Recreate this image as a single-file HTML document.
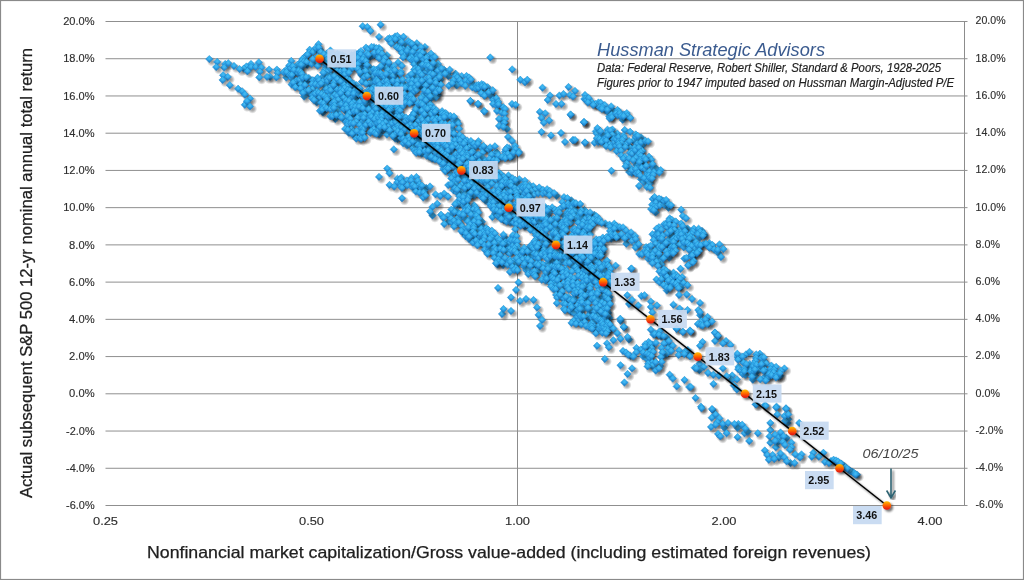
<!DOCTYPE html>
<html><head><meta charset="utf-8"><title>Hussman Strategic Advisors</title>
<style>html,body{margin:0;padding:0;background:#fff}body{width:1024px;height:580px;overflow:hidden;font-family:"Liberation Sans",sans-serif}svg{display:block}text{font-family:"Liberation Sans",sans-serif}</style></head><body>
<svg width="1024" height="580" viewBox="0 0 1024 580">
<defs>
<linearGradient id="dg" x1="0" y1="0" x2="0" y2="1"><stop offset="0.1" stop-color="#35b9f3"/><stop offset="0.5" stop-color="#2a9fe4"/><stop offset="0.95" stop-color="#1b7fca"/></linearGradient>
<radialGradient id="hg" cx="0.5" cy="0.5" r="0.5"><stop offset="0" stop-color="#5fd0ff" stop-opacity="0.55"/><stop offset="1" stop-color="#5fd0ff" stop-opacity="0"/></radialGradient>
<radialGradient id="sg" cx="0.5" cy="0.5" r="0.5"><stop offset="0" stop-color="#000" stop-opacity="0.42"/><stop offset="0.45" stop-color="#000" stop-opacity="0.3"/><stop offset="1" stop-color="#000" stop-opacity="0"/></radialGradient>
<linearGradient id="og" x1="0" y1="0" x2="0" y2="1"><stop offset="0.08" stop-color="#ffb400"/><stop offset="0.45" stop-color="#ff6a00"/><stop offset="0.8" stop-color="#ee2a0c"/><stop offset="1" stop-color="#d81810"/></linearGradient>
<filter id="sh" x="-5%" y="-5%" width="110%" height="110%"><feGaussianBlur in="SourceAlpha" stdDeviation="1.1"/><feOffset dx="2" dy="2"/><feComponentTransfer><feFuncA type="linear" slope="0.55"/></feComponentTransfer><feMerge><feMergeNode/><feMergeNode in="SourceGraphic"/></feMerge></filter>
<g id="d"><circle cx="2.4" cy="2.5" r="4.8" fill="url(#sg)"/><path d="M0-3.7L3.7 0L0 3.7L-3.7 0Z" fill="url(#dg)" stroke="#1d7fc6" stroke-width="0.45"/><circle cx="0" cy="-0.3" r="2.4" fill="url(#hg)"/></g>
</defs>
<rect x="0" y="0" width="1024" height="580" fill="#fff"/>
<path d="M105.5 21.5H967.5 M105.5 58.73076923076923H967.5 M105.5 95.96153846153847H967.5 M105.5 133.1923076923077H967.5 M105.5 170.42307692307693H967.5 M105.5 207.65384615384616H967.5 M105.5 244.88461538461542H967.5 M105.5 282.11538461538464H967.5 M105.5 319.34615384615387H967.5 M105.5 356.5769230769231H967.5 M105.5 393.8076923076923H967.5 M105.5 431.03846153846155H967.5 M105.5 468.26923076923083H967.5 M105.5 505.50000000000006H967.5" stroke="#8f8f8f" stroke-width="1" fill="none"/>
<path d="M517.5 21.5V505.5M964.5 21.5V505.5" stroke="#8c8c8c" stroke-width="1" fill="none"/>
<g font-size="11.5" fill="#2e2e2e" stroke="#2e2e2e" stroke-width="0.15">
<text x="94.6" y="25.1" text-anchor="end" textLength="31.4" lengthAdjust="spacingAndGlyphs">20.0%</text>
<text x="975.6" y="24.3" textLength="30" lengthAdjust="spacingAndGlyphs">20.0%</text>
<text x="94.6" y="62.3" text-anchor="end" textLength="31.4" lengthAdjust="spacingAndGlyphs">18.0%</text>
<text x="975.6" y="61.5" textLength="30" lengthAdjust="spacingAndGlyphs">18.0%</text>
<text x="94.6" y="99.6" text-anchor="end" textLength="31.4" lengthAdjust="spacingAndGlyphs">16.0%</text>
<text x="975.6" y="98.8" textLength="30" lengthAdjust="spacingAndGlyphs">16.0%</text>
<text x="94.6" y="136.8" text-anchor="end" textLength="31.4" lengthAdjust="spacingAndGlyphs">14.0%</text>
<text x="975.6" y="136.0" textLength="30" lengthAdjust="spacingAndGlyphs">14.0%</text>
<text x="94.6" y="174.0" text-anchor="end" textLength="31.4" lengthAdjust="spacingAndGlyphs">12.0%</text>
<text x="975.6" y="173.2" textLength="30" lengthAdjust="spacingAndGlyphs">12.0%</text>
<text x="94.6" y="211.3" text-anchor="end" textLength="31.4" lengthAdjust="spacingAndGlyphs">10.0%</text>
<text x="975.6" y="210.5" textLength="30" lengthAdjust="spacingAndGlyphs">10.0%</text>
<text x="94.6" y="248.5" text-anchor="end" textLength="25.5" lengthAdjust="spacingAndGlyphs">8.0%</text>
<text x="975.6" y="247.7" textLength="24.4" lengthAdjust="spacingAndGlyphs">8.0%</text>
<text x="94.6" y="285.7" text-anchor="end" textLength="25.5" lengthAdjust="spacingAndGlyphs">6.0%</text>
<text x="975.6" y="284.9" textLength="24.4" lengthAdjust="spacingAndGlyphs">6.0%</text>
<text x="94.6" y="322.9" text-anchor="end" textLength="25.5" lengthAdjust="spacingAndGlyphs">4.0%</text>
<text x="975.6" y="322.1" textLength="24.4" lengthAdjust="spacingAndGlyphs">4.0%</text>
<text x="94.6" y="360.2" text-anchor="end" textLength="25.5" lengthAdjust="spacingAndGlyphs">2.0%</text>
<text x="975.6" y="359.4" textLength="24.4" lengthAdjust="spacingAndGlyphs">2.0%</text>
<text x="94.6" y="397.4" text-anchor="end" textLength="25.5" lengthAdjust="spacingAndGlyphs">0.0%</text>
<text x="975.6" y="396.6" textLength="24.4" lengthAdjust="spacingAndGlyphs">0.0%</text>
<text x="94.6" y="434.6" text-anchor="end" textLength="28.5" lengthAdjust="spacingAndGlyphs">-2.0%</text>
<text x="975.6" y="433.8" textLength="27.4" lengthAdjust="spacingAndGlyphs">-2.0%</text>
<text x="94.6" y="471.9" text-anchor="end" textLength="28.5" lengthAdjust="spacingAndGlyphs">-4.0%</text>
<text x="975.6" y="471.1" textLength="27.4" lengthAdjust="spacingAndGlyphs">-4.0%</text>
<text x="94.6" y="509.1" text-anchor="end" textLength="28.5" lengthAdjust="spacingAndGlyphs">-6.0%</text>
<text x="975.6" y="508.3" textLength="27.4" lengthAdjust="spacingAndGlyphs">-6.0%</text>
<text x="105.5" y="524.6" text-anchor="middle" textLength="25" lengthAdjust="spacingAndGlyphs">0.25</text>
<text x="311.5" y="524.6" text-anchor="middle" textLength="25" lengthAdjust="spacingAndGlyphs">0.50</text>
<text x="517.5" y="524.6" text-anchor="middle" textLength="25" lengthAdjust="spacingAndGlyphs">1.00</text>
<text x="724" y="524.6" text-anchor="middle" textLength="25" lengthAdjust="spacingAndGlyphs">2.00</text>
<text x="930" y="524.6" text-anchor="middle" textLength="25" lengthAdjust="spacingAndGlyphs">4.00</text>
</g>
<text x="147" y="557.5" font-size="16.5" fill="#202020" stroke="#202020" stroke-width="0.25" textLength="724" lengthAdjust="spacingAndGlyphs">Nonfinancial market capitalization/Gross value-added (including estimated foreign revenues)</text>
<text transform="translate(32 498) rotate(-90)" font-size="16.5" fill="#202020" stroke="#202020" stroke-width="0.25" textLength="450" lengthAdjust="spacingAndGlyphs">Actual subsequent S&amp;P 500 12-yr nominal annual total return</text>
<g id="cloud"><use href="#d" x="209.3" y="59.1"/><use href="#d" x="217.2" y="61.9"/><use href="#d" x="225.2" y="64.0"/><use href="#d" x="224.1" y="67.6"/><use href="#d" x="216.2" y="67.1"/><use href="#d" x="228.3" y="63.2"/><use href="#d" x="234.0" y="66.0"/><use href="#d" x="223.1" y="75.3"/><use href="#d" x="227.8" y="76.9"/><use href="#d" x="246.4" y="66.5"/><use href="#d" x="243.8" y="68.6"/><use href="#d" x="222.6" y="80.0"/><use href="#d" x="239.6" y="69.1"/><use href="#d" x="251.0" y="64.0"/><use href="#d" x="251.0" y="67.0"/><use href="#d" x="229.8" y="85.2"/><use href="#d" x="255.7" y="67.0"/><use href="#d" x="238.1" y="88.8"/><use href="#d" x="247.4" y="71.2"/><use href="#d" x="258.8" y="62.4"/><use href="#d" x="261.4" y="67.6"/><use href="#d" x="269.1" y="69.6"/><use href="#d" x="259.8" y="71.7"/><use href="#d" x="259.3" y="77.4"/><use href="#d" x="242.2" y="91.4"/><use href="#d" x="270.1" y="76.9"/><use href="#d" x="244.8" y="94.5"/><use href="#d" x="267.0" y="76.9"/><use href="#d" x="250.0" y="98.6"/><use href="#d" x="276.9" y="69.6"/><use href="#d" x="291.3" y="60.9"/><use href="#d" x="244.8" y="104.8"/><use href="#d" x="246.9" y="101.2"/><use href="#d" x="277.5" y="73.0"/><use href="#d" x="297.8" y="64.6"/><use href="#d" x="286.5" y="69.5"/><use href="#d" x="250.0" y="106.4"/><use href="#d" x="297.8" y="66.8"/><use href="#d" x="305.6" y="56.0"/><use href="#d" x="295.1" y="67.3"/><use href="#d" x="276.4" y="77.4"/><use href="#d" x="286.3" y="77.6"/><use href="#d" x="289.3" y="65.5"/><use href="#d" x="309.7" y="49.8"/><use href="#d" x="304.5" y="57.7"/><use href="#d" x="283.6" y="72.2"/><use href="#d" x="286.5" y="72.2"/><use href="#d" x="316.8" y="49.7"/><use href="#d" x="290.5" y="68.2"/><use href="#d" x="302.3" y="59.1"/><use href="#d" x="309.3" y="52.7"/><use href="#d" x="294.6" y="73.0"/><use href="#d" x="318.5" y="44.3"/><use href="#d" x="301.5" y="61.3"/><use href="#d" x="292.8" y="66.3"/><use href="#d" x="312.7" y="52.1"/><use href="#d" x="315.5" y="48.1"/><use href="#d" x="307.3" y="54.7"/><use href="#d" x="300.2" y="69.0"/><use href="#d" x="289.8" y="75.2"/><use href="#d" x="296.6" y="71.7"/><use href="#d" x="307.1" y="64.8"/><use href="#d" x="314.7" y="58.7"/><use href="#d" x="303.7" y="62.0"/><use href="#d" x="306.5" y="62.0"/><use href="#d" x="293.8" y="70.0"/><use href="#d" x="298.1" y="73.2"/><use href="#d" x="315.1" y="62.9"/><use href="#d" x="317.5" y="56.9"/><use href="#d" x="291.9" y="78.2"/><use href="#d" x="302.7" y="66.0"/><use href="#d" x="298.7" y="70.7"/><use href="#d" x="320.2" y="50.0"/><use href="#d" x="318.6" y="47.4"/><use href="#d" x="311.7" y="63.9"/><use href="#d" x="301.0" y="64.8"/><use href="#d" x="295.6" y="83.4"/><use href="#d" x="291.6" y="84.5"/><use href="#d" x="291.7" y="75.0"/><use href="#d" x="327.4" y="53.0"/><use href="#d" x="320.7" y="52.1"/><use href="#d" x="320.0" y="59.0"/><use href="#d" x="330.7" y="52.9"/><use href="#d" x="300.8" y="72.2"/><use href="#d" x="312.7" y="59.1"/><use href="#d" x="294.5" y="85.0"/><use href="#d" x="298.8" y="82.4"/><use href="#d" x="296.4" y="80.6"/><use href="#d" x="299.4" y="79.6"/><use href="#d" x="303.3" y="83.2"/><use href="#d" x="305.1" y="80.2"/><use href="#d" x="293.1" y="82.6"/><use href="#d" x="323.8" y="54.3"/><use href="#d" x="307.7" y="79.6"/><use href="#d" x="301.8" y="74.0"/><use href="#d" x="300.9" y="84.3"/><use href="#d" x="295.4" y="87.2"/><use href="#d" x="328.8" y="58.4"/><use href="#d" x="302.5" y="77.7"/><use href="#d" x="308.8" y="77.9"/><use href="#d" x="326.9" y="56.5"/><use href="#d" x="306.1" y="77.3"/><use href="#d" x="330.4" y="50.5"/><use href="#d" x="319.3" y="62.0"/><use href="#d" x="302.7" y="87.5"/><use href="#d" x="312.9" y="80.3"/><use href="#d" x="332.9" y="55.0"/><use href="#d" x="326.6" y="59.9"/><use href="#d" x="337.4" y="53.9"/><use href="#d" x="362.7" y="26.2"/><use href="#d" x="317.7" y="65.8"/><use href="#d" x="300.4" y="88.6"/><use href="#d" x="316.6" y="79.7"/><use href="#d" x="335.4" y="58.7"/><use href="#d" x="325.6" y="66.6"/><use href="#d" x="325.0" y="69.8"/><use href="#d" x="322.4" y="77.2"/><use href="#d" x="339.8" y="56.5"/><use href="#d" x="330.8" y="60.7"/><use href="#d" x="342.4" y="55.2"/><use href="#d" x="325.1" y="63.4"/><use href="#d" x="345.1" y="56.4"/><use href="#d" x="342.0" y="57.2"/><use href="#d" x="304.9" y="85.0"/><use href="#d" x="305.4" y="91.7"/><use href="#d" x="340.3" y="54.6"/><use href="#d" x="317.6" y="77.8"/><use href="#d" x="310.3" y="89.8"/><use href="#d" x="311.9" y="84.2"/><use href="#d" x="309.5" y="93.4"/><use href="#d" x="312.7" y="89.1"/><use href="#d" x="331.7" y="63.3"/><use href="#d" x="367.3" y="27.0"/><use href="#d" x="308.3" y="90.3"/><use href="#d" x="327.9" y="71.3"/><use href="#d" x="337.5" y="60.2"/><use href="#d" x="338.1" y="68.0"/><use href="#d" x="331.7" y="75.1"/><use href="#d" x="341.2" y="59.7"/><use href="#d" x="304.1" y="96.6"/><use href="#d" x="337.6" y="65.0"/><use href="#d" x="331.9" y="67.6"/><use href="#d" x="326.9" y="75.6"/><use href="#d" x="315.4" y="84.4"/><use href="#d" x="330.6" y="69.0"/><use href="#d" x="339.7" y="62.7"/><use href="#d" x="319.0" y="80.3"/><use href="#d" x="302.8" y="93.0"/><use href="#d" x="337.1" y="62.3"/><use href="#d" x="323.1" y="72.8"/><use href="#d" x="317.3" y="91.4"/><use href="#d" x="347.3" y="58.2"/><use href="#d" x="312.6" y="94.9"/><use href="#d" x="322.6" y="81.6"/><use href="#d" x="347.5" y="62.5"/><use href="#d" x="337.1" y="70.6"/><use href="#d" x="380.6" y="24.7"/><use href="#d" x="334.7" y="62.5"/><use href="#d" x="327.5" y="83.7"/><use href="#d" x="356.5" y="55.6"/><use href="#d" x="355.6" y="53.6"/><use href="#d" x="351.7" y="55.3"/><use href="#d" x="354.5" y="55.8"/><use href="#d" x="350.1" y="59.8"/><use href="#d" x="370.5" y="31.0"/><use href="#d" x="359.3" y="52.6"/><use href="#d" x="327.2" y="78.7"/><use href="#d" x="353.3" y="58.1"/><use href="#d" x="346.8" y="66.3"/><use href="#d" x="323.0" y="91.9"/><use href="#d" x="318.8" y="85.2"/><use href="#d" x="325.8" y="86.2"/><use href="#d" x="321.0" y="83.6"/><use href="#d" x="340.5" y="71.5"/><use href="#d" x="327.6" y="81.0"/><use href="#d" x="361.0" y="51.1"/><use href="#d" x="350.0" y="69.7"/><use href="#d" x="318.5" y="96.3"/><use href="#d" x="352.2" y="65.3"/><use href="#d" x="329.5" y="78.0"/><use href="#d" x="312.1" y="98.2"/><use href="#d" x="342.9" y="65.6"/><use href="#d" x="315.0" y="93.7"/><use href="#d" x="321.2" y="99.7"/><use href="#d" x="342.3" y="78.9"/><use href="#d" x="334.4" y="87.8"/><use href="#d" x="357.4" y="60.0"/><use href="#d" x="340.3" y="76.1"/><use href="#d" x="374.0" y="47.1"/><use href="#d" x="330.2" y="87.1"/><use href="#d" x="359.3" y="59.4"/><use href="#d" x="334.6" y="78.9"/><use href="#d" x="379.0" y="37.0"/><use href="#d" x="326.4" y="88.9"/><use href="#d" x="334.2" y="76.0"/><use href="#d" x="337.1" y="83.0"/><use href="#d" x="360.4" y="54.3"/><use href="#d" x="318.6" y="92.9"/><use href="#d" x="342.7" y="76.5"/><use href="#d" x="366.0" y="47.6"/><use href="#d" x="320.0" y="97.6"/><use href="#d" x="359.8" y="64.8"/><use href="#d" x="354.8" y="60.0"/><use href="#d" x="316.8" y="102.4"/><use href="#d" x="354.8" y="65.0"/><use href="#d" x="368.0" y="49.2"/><use href="#d" x="321.5" y="94.1"/><use href="#d" x="344.3" y="70.8"/><use href="#d" x="313.9" y="100.0"/><use href="#d" x="328.1" y="91.5"/><use href="#d" x="363.7" y="57.2"/><use href="#d" x="357.8" y="58.0"/><use href="#d" x="343.0" y="80.8"/><use href="#d" x="370.5" y="56.7"/><use href="#d" x="379.0" y="48.0"/><use href="#d" x="324.3" y="96.0"/><use href="#d" x="373.5" y="54.9"/><use href="#d" x="371.5" y="46.9"/><use href="#d" x="333.9" y="82.4"/><use href="#d" x="337.3" y="79.0"/><use href="#d" x="347.5" y="77.2"/><use href="#d" x="335.3" y="92.6"/><use href="#d" x="352.4" y="67.9"/><use href="#d" x="366.2" y="58.7"/><use href="#d" x="333.3" y="85.2"/><use href="#d" x="360.0" y="68.1"/><use href="#d" x="330.3" y="95.2"/><use href="#d" x="395.1" y="36.5"/><use href="#d" x="344.6" y="74.5"/><use href="#d" x="376.6" y="48.1"/><use href="#d" x="330.5" y="90.4"/><use href="#d" x="337.3" y="89.4"/><use href="#d" x="348.8" y="72.7"/><use href="#d" x="363.6" y="64.0"/><use href="#d" x="355.8" y="67.6"/><use href="#d" x="361.0" y="60.9"/><use href="#d" x="329.3" y="102.5"/><use href="#d" x="366.6" y="53.4"/><use href="#d" x="368.3" y="54.7"/><use href="#d" x="321.1" y="102.7"/><use href="#d" x="341.3" y="87.8"/><use href="#d" x="357.7" y="64.1"/><use href="#d" x="349.9" y="83.2"/><use href="#d" x="362.6" y="59.4"/><use href="#d" x="334.6" y="94.9"/><use href="#d" x="389.5" y="38.2"/><use href="#d" x="331.5" y="98.5"/><use href="#d" x="340.5" y="81.4"/><use href="#d" x="387.7" y="39.1"/><use href="#d" x="365.8" y="61.1"/><use href="#d" x="322.9" y="112.4"/><use href="#d" x="380.3" y="49.6"/><use href="#d" x="344.3" y="84.9"/><use href="#d" x="347.0" y="79.3"/><use href="#d" x="329.8" y="105.9"/><use href="#d" x="357.8" y="68.8"/><use href="#d" x="349.5" y="80.5"/><use href="#d" x="326.4" y="97.6"/><use href="#d" x="377.1" y="56.4"/><use href="#d" x="353.9" y="83.9"/><use href="#d" x="322.7" y="106.6"/><use href="#d" x="323.5" y="103.5"/><use href="#d" x="350.9" y="87.8"/><use href="#d" x="374.1" y="52.7"/><use href="#d" x="326.9" y="99.5"/><use href="#d" x="367.0" y="67.5"/><use href="#d" x="319.9" y="110.8"/><use href="#d" x="332.5" y="103.3"/><use href="#d" x="335.5" y="100.2"/><use href="#d" x="392.2" y="38.6"/><use href="#d" x="367.5" y="71.7"/><use href="#d" x="340.7" y="89.8"/><use href="#d" x="370.3" y="67.9"/><use href="#d" x="356.5" y="85.2"/><use href="#d" x="379.1" y="56.1"/><use href="#d" x="397.3" y="35.9"/><use href="#d" x="324.6" y="107.1"/><use href="#d" x="344.6" y="92.2"/><use href="#d" x="345.8" y="90.0"/><use href="#d" x="342.8" y="95.5"/><use href="#d" x="378.7" y="52.1"/><use href="#d" x="399.3" y="39.8"/><use href="#d" x="341.2" y="98.3"/><use href="#d" x="346.4" y="96.8"/><use href="#d" x="371.5" y="70.7"/><use href="#d" x="363.2" y="72.5"/><use href="#d" x="390.3" y="40.1"/><use href="#d" x="354.6" y="87.1"/><use href="#d" x="361.0" y="74.7"/><use href="#d" x="347.6" y="86.0"/><use href="#d" x="337.0" y="95.9"/><use href="#d" x="383.4" y="56.9"/><use href="#d" x="344.6" y="87.9"/><use href="#d" x="342.4" y="91.0"/><use href="#d" x="391.3" y="43.6"/><use href="#d" x="322.0" y="109.9"/><use href="#d" x="351.7" y="83.9"/><use href="#d" x="359.9" y="72.1"/><use href="#d" x="368.4" y="69.1"/><use href="#d" x="366.9" y="64.8"/><use href="#d" x="403.5" y="36.8"/><use href="#d" x="340.4" y="93.2"/><use href="#d" x="399.2" y="44.6"/><use href="#d" x="343.6" y="97.8"/><use href="#d" x="336.1" y="104.5"/><use href="#d" x="338.2" y="99.9"/><use href="#d" x="369.8" y="72.3"/><use href="#d" x="365.5" y="71.0"/><use href="#d" x="395.2" y="39.2"/><use href="#d" x="379.1" y="58.2"/><use href="#d" x="326.7" y="108.4"/><use href="#d" x="334.0" y="102.1"/><use href="#d" x="330.3" y="109.3"/><use href="#d" x="383.9" y="64.5"/><use href="#d" x="363.8" y="81.1"/><use href="#d" x="338.3" y="106.1"/><use href="#d" x="387.0" y="55.2"/><use href="#d" x="373.7" y="69.2"/><use href="#d" x="382.0" y="53.8"/><use href="#d" x="334.3" y="105.4"/><use href="#d" x="396.4" y="46.9"/><use href="#d" x="343.4" y="106.4"/><use href="#d" x="334.8" y="111.5"/><use href="#d" x="361.8" y="81.7"/><use href="#d" x="347.8" y="90.1"/><use href="#d" x="337.7" y="110.4"/><use href="#d" x="359.9" y="88.5"/><use href="#d" x="333.7" y="108.0"/><use href="#d" x="401.9" y="47.4"/><use href="#d" x="341.3" y="104.0"/><use href="#d" x="350.1" y="95.6"/><use href="#d" x="384.9" y="58.1"/><use href="#d" x="349.8" y="90.6"/><use href="#d" x="398.3" y="48.2"/><use href="#d" x="404.0" y="44.2"/><use href="#d" x="401.5" y="42.0"/><use href="#d" x="376.2" y="69.8"/><use href="#d" x="408.1" y="41.2"/><use href="#d" x="348.2" y="93.6"/><use href="#d" x="364.2" y="77.3"/><use href="#d" x="345.6" y="102.3"/><use href="#d" x="371.5" y="82.2"/><use href="#d" x="357.1" y="96.1"/><use href="#d" x="354.5" y="90.7"/><use href="#d" x="383.6" y="61.3"/><use href="#d" x="347.5" y="103.7"/><use href="#d" x="389.4" y="65.2"/><use href="#d" x="374.6" y="78.0"/><use href="#d" x="352.0" y="100.7"/><use href="#d" x="372.8" y="76.8"/><use href="#d" x="379.8" y="68.1"/><use href="#d" x="355.5" y="93.4"/><use href="#d" x="350.1" y="99.6"/><use href="#d" x="377.4" y="75.8"/><use href="#d" x="367.2" y="75.9"/><use href="#d" x="375.4" y="73.1"/><use href="#d" x="350.3" y="102.7"/><use href="#d" x="359.8" y="92.1"/><use href="#d" x="335.4" y="119.0"/><use href="#d" x="386.3" y="68.5"/><use href="#d" x="354.4" y="99.0"/><use href="#d" x="346.0" y="100.3"/><use href="#d" x="376.6" y="79.5"/><use href="#d" x="355.5" y="100.6"/><use href="#d" x="364.5" y="93.2"/><use href="#d" x="353.2" y="96.7"/><use href="#d" x="353.5" y="93.7"/><use href="#d" x="380.6" y="66.3"/><use href="#d" x="403.2" y="49.5"/><use href="#d" x="345.6" y="111.0"/><use href="#d" x="330.3" y="116.3"/><use href="#d" x="343.4" y="108.9"/><use href="#d" x="411.7" y="46.6"/><use href="#d" x="358.7" y="94.0"/><use href="#d" x="348.9" y="105.1"/><use href="#d" x="368.9" y="84.0"/><use href="#d" x="332.3" y="116.2"/><use href="#d" x="375.4" y="81.7"/><use href="#d" x="358.1" y="90.0"/><use href="#d" x="388.7" y="62.5"/><use href="#d" x="366.0" y="83.6"/><use href="#d" x="400.5" y="49.3"/><use href="#d" x="348.8" y="101.1"/><use href="#d" x="378.5" y="73.5"/><use href="#d" x="340.0" y="115.0"/><use href="#d" x="355.4" y="103.9"/><use href="#d" x="382.4" y="77.3"/><use href="#d" x="409.9" y="52.3"/><use href="#d" x="407.7" y="48.9"/><use href="#d" x="362.3" y="95.4"/><use href="#d" x="391.9" y="69.4"/><use href="#d" x="413.9" y="46.2"/><use href="#d" x="346.0" y="105.4"/><use href="#d" x="336.2" y="115.0"/><use href="#d" x="373.2" y="87.7"/><use href="#d" x="401.8" y="53.0"/><use href="#d" x="387.7" y="75.4"/><use href="#d" x="373.1" y="91.3"/><use href="#d" x="353.5" y="102.6"/><use href="#d" x="410.0" y="42.4"/><use href="#d" x="343.7" y="119.3"/><use href="#d" x="351.8" y="103.9"/><use href="#d" x="398.1" y="62.4"/><use href="#d" x="353.0" y="109.3"/><use href="#d" x="388.1" y="70.2"/><use href="#d" x="380.7" y="73.4"/><use href="#d" x="383.0" y="75.3"/><use href="#d" x="384.9" y="77.2"/><use href="#d" x="393.8" y="66.2"/><use href="#d" x="341.4" y="117.5"/><use href="#d" x="346.9" y="108.6"/><use href="#d" x="358.1" y="104.6"/><use href="#d" x="416.8" y="43.3"/><use href="#d" x="373.4" y="93.7"/><use href="#d" x="391.5" y="72.0"/><use href="#d" x="368.3" y="90.1"/><use href="#d" x="377.8" y="81.3"/><use href="#d" x="411.8" y="43.8"/><use href="#d" x="415.1" y="48.1"/><use href="#d" x="346.0" y="121.9"/><use href="#d" x="359.6" y="102.3"/><use href="#d" x="389.5" y="79.4"/><use href="#d" x="404.8" y="55.6"/><use href="#d" x="389.9" y="75.8"/><use href="#d" x="386.0" y="74.0"/><use href="#d" x="364.5" y="97.6"/><use href="#d" x="352.1" y="107.1"/><use href="#d" x="354.2" y="113.5"/><use href="#d" x="409.2" y="54.1"/><use href="#d" x="382.7" y="85.1"/><use href="#d" x="352.1" y="114.1"/><use href="#d" x="406.9" y="51.0"/><use href="#d" x="375.2" y="88.1"/><use href="#d" x="414.7" y="53.2"/><use href="#d" x="349.3" y="113.2"/><use href="#d" x="347.3" y="116.3"/><use href="#d" x="394.9" y="73.6"/><use href="#d" x="401.9" y="65.9"/><use href="#d" x="367.3" y="100.8"/><use href="#d" x="355.2" y="106.9"/><use href="#d" x="370.2" y="90.6"/><use href="#d" x="371.8" y="89.5"/><use href="#d" x="412.6" y="54.1"/><use href="#d" x="348.1" y="121.8"/><use href="#d" x="403.0" y="57.4"/><use href="#d" x="412.4" y="51.9"/><use href="#d" x="411.7" y="57.5"/><use href="#d" x="375.1" y="90.9"/><use href="#d" x="395.5" y="77.6"/><use href="#d" x="353.8" y="111.2"/><use href="#d" x="393.3" y="75.4"/><use href="#d" x="383.8" y="81.9"/><use href="#d" x="370.9" y="97.8"/><use href="#d" x="366.8" y="98.2"/><use href="#d" x="360.3" y="112.0"/><use href="#d" x="369.6" y="105.1"/><use href="#d" x="390.9" y="82.9"/><use href="#d" x="375.5" y="94.4"/><use href="#d" x="417.5" y="55.2"/><use href="#d" x="396.3" y="71.8"/><use href="#d" x="379.5" y="84.7"/><use href="#d" x="371.5" y="104.0"/><use href="#d" x="366.8" y="105.8"/><use href="#d" x="356.8" y="111.3"/><use href="#d" x="391.5" y="85.0"/><use href="#d" x="370.3" y="94.2"/><use href="#d" x="360.1" y="115.5"/><use href="#d" x="365.6" y="107.8"/><use href="#d" x="373.8" y="97.9"/><use href="#d" x="378.1" y="88.7"/><use href="#d" x="368.7" y="107.2"/><use href="#d" x="386.6" y="81.0"/><use href="#d" x="395.5" y="82.7"/><use href="#d" x="365.6" y="103.6"/><use href="#d" x="371.3" y="99.8"/><use href="#d" x="379.2" y="90.3"/><use href="#d" x="361.7" y="106.7"/><use href="#d" x="394.6" y="70.2"/><use href="#d" x="409.8" y="58.8"/><use href="#d" x="424.9" y="47.0"/><use href="#d" x="365.0" y="100.9"/><use href="#d" x="359.0" y="106.9"/><use href="#d" x="376.7" y="99.9"/><use href="#d" x="385.8" y="91.8"/><use href="#d" x="383.4" y="95.3"/><use href="#d" x="412.2" y="60.5"/><use href="#d" x="347.6" y="124.6"/><use href="#d" x="400.8" y="71.7"/><use href="#d" x="380.9" y="92.5"/><use href="#d" x="385.9" y="88.0"/><use href="#d" x="350.3" y="118.9"/><use href="#d" x="387.6" y="83.8"/><use href="#d" x="362.4" y="114.9"/><use href="#d" x="366.1" y="110.5"/><use href="#d" x="421.0" y="47.3"/><use href="#d" x="359.6" y="119.1"/><use href="#d" x="386.9" y="85.6"/><use href="#d" x="383.9" y="87.7"/><use href="#d" x="378.6" y="92.3"/><use href="#d" x="376.5" y="97.9"/><use href="#d" x="419.3" y="53.7"/><use href="#d" x="425.1" y="54.5"/><use href="#d" x="350.8" y="123.5"/><use href="#d" x="389.6" y="87.4"/><use href="#d" x="400.7" y="73.7"/><use href="#d" x="362.8" y="108.4"/><use href="#d" x="417.6" y="63.7"/><use href="#d" x="364.6" y="114.4"/><use href="#d" x="414.2" y="59.9"/><use href="#d" x="381.7" y="89.4"/><use href="#d" x="420.4" y="64.2"/><use href="#d" x="378.4" y="95.8"/><use href="#d" x="419.9" y="51.8"/><use href="#d" x="357.3" y="118.0"/><use href="#d" x="384.6" y="98.1"/><use href="#d" x="414.1" y="64.3"/><use href="#d" x="416.4" y="68.1"/><use href="#d" x="414.3" y="69.4"/><use href="#d" x="356.2" y="121.8"/><use href="#d" x="420.8" y="60.3"/><use href="#d" x="345.1" y="128.9"/><use href="#d" x="392.9" y="81.0"/><use href="#d" x="416.4" y="70.3"/><use href="#d" x="380.4" y="100.9"/><use href="#d" x="416.4" y="59.3"/><use href="#d" x="378.1" y="107.3"/><use href="#d" x="399.0" y="83.8"/><use href="#d" x="354.5" y="132.7"/><use href="#d" x="351.7" y="129.2"/><use href="#d" x="422.2" y="52.7"/><use href="#d" x="348.9" y="132.9"/><use href="#d" x="387.6" y="95.9"/><use href="#d" x="420.2" y="56.0"/><use href="#d" x="368.7" y="109.3"/><use href="#d" x="423.6" y="59.4"/><use href="#d" x="397.5" y="80.9"/><use href="#d" x="374.4" y="105.0"/><use href="#d" x="353.6" y="131.1"/><use href="#d" x="382.0" y="103.7"/><use href="#d" x="403.7" y="84.3"/><use href="#d" x="353.4" y="123.5"/><use href="#d" x="362.2" y="121.9"/><use href="#d" x="353.8" y="135.1"/><use href="#d" x="347.7" y="129.9"/><use href="#d" x="389.7" y="91.3"/><use href="#d" x="364.3" y="121.9"/><use href="#d" x="402.6" y="79.8"/><use href="#d" x="415.0" y="71.6"/><use href="#d" x="397.1" y="84.9"/><use href="#d" x="396.9" y="93.3"/><use href="#d" x="375.2" y="106.9"/><use href="#d" x="359.6" y="125.0"/><use href="#d" x="391.8" y="90.4"/><use href="#d" x="421.8" y="68.9"/><use href="#d" x="374.4" y="110.3"/><use href="#d" x="428.5" y="58.7"/><use href="#d" x="418.5" y="69.3"/><use href="#d" x="367.4" y="119.1"/><use href="#d" x="390.9" y="100.7"/><use href="#d" x="408.5" y="76.4"/><use href="#d" x="373.9" y="115.6"/><use href="#d" x="372.4" y="119.4"/><use href="#d" x="418.8" y="74.6"/><use href="#d" x="351.9" y="133.5"/><use href="#d" x="359.3" y="130.2"/><use href="#d" x="372.2" y="112.4"/><use href="#d" x="387.6" y="102.4"/><use href="#d" x="363.8" y="126.8"/><use href="#d" x="428.6" y="56.0"/><use href="#d" x="363.5" y="117.9"/><use href="#d" x="408.3" y="85.2"/><use href="#d" x="390.2" y="95.2"/><use href="#d" x="426.1" y="58.0"/><use href="#d" x="382.6" y="101.0"/><use href="#d" x="414.7" y="78.0"/><use href="#d" x="393.4" y="89.2"/><use href="#d" x="407.3" y="88.2"/><use href="#d" x="380.1" y="110.2"/><use href="#d" x="403.9" y="89.9"/><use href="#d" x="417.0" y="77.7"/><use href="#d" x="411.1" y="74.2"/><use href="#d" x="399.7" y="87.7"/><use href="#d" x="384.8" y="107.3"/><use href="#d" x="419.7" y="72.6"/><use href="#d" x="369.7" y="118.2"/><use href="#d" x="423.7" y="68.1"/><use href="#d" x="370.2" y="114.6"/><use href="#d" x="381.2" y="106.8"/><use href="#d" x="372.9" y="122.2"/><use href="#d" x="400.1" y="91.8"/><use href="#d" x="426.0" y="71.5"/><use href="#d" x="375.9" y="108.9"/><use href="#d" x="356.6" y="131.2"/><use href="#d" x="398.2" y="89.2"/><use href="#d" x="384.5" y="111.1"/><use href="#d" x="431.1" y="53.7"/><use href="#d" x="426.4" y="62.2"/><use href="#d" x="422.4" y="64.7"/><use href="#d" x="369.5" y="125.7"/><use href="#d" x="432.8" y="58.0"/><use href="#d" x="386.8" y="106.6"/><use href="#d" x="401.9" y="86.6"/><use href="#d" x="405.0" y="87.7"/><use href="#d" x="361.9" y="128.2"/><use href="#d" x="396.3" y="103.4"/><use href="#d" x="363.8" y="129.1"/><use href="#d" x="426.0" y="65.8"/><use href="#d" x="408.6" y="80.5"/><use href="#d" x="421.7" y="74.9"/><use href="#d" x="434.8" y="57.1"/><use href="#d" x="398.9" y="98.5"/><use href="#d" x="392.2" y="97.1"/><use href="#d" x="377.3" y="114.1"/><use href="#d" x="395.1" y="98.3"/><use href="#d" x="365.8" y="124.9"/><use href="#d" x="382.2" y="113.1"/><use href="#d" x="371.3" y="116.8"/><use href="#d" x="356.3" y="138.6"/><use href="#d" x="359.4" y="137.8"/><use href="#d" x="360.7" y="133.5"/><use href="#d" x="432.8" y="69.3"/><use href="#d" x="368.7" y="121.6"/><use href="#d" x="433.8" y="65.4"/><use href="#d" x="428.3" y="69.3"/><use href="#d" x="430.4" y="70.5"/><use href="#d" x="376.0" y="117.2"/><use href="#d" x="392.7" y="105.0"/><use href="#d" x="361.8" y="135.1"/><use href="#d" x="411.8" y="86.8"/><use href="#d" x="434.8" y="68.3"/><use href="#d" x="388.9" y="113.1"/><use href="#d" x="377.8" y="126.4"/><use href="#d" x="371.1" y="124.4"/><use href="#d" x="428.3" y="65.9"/><use href="#d" x="374.3" y="124.0"/><use href="#d" x="370.2" y="132.9"/><use href="#d" x="404.4" y="93.9"/><use href="#d" x="405.4" y="98.4"/><use href="#d" x="438.1" y="63.9"/><use href="#d" x="374.4" y="119.2"/><use href="#d" x="413.7" y="88.3"/><use href="#d" x="437.7" y="66.2"/><use href="#d" x="398.1" y="96.3"/><use href="#d" x="373.7" y="129.2"/><use href="#d" x="431.2" y="67.8"/><use href="#d" x="412.5" y="80.4"/><use href="#d" x="382.0" y="122.0"/><use href="#d" x="384.8" y="119.6"/><use href="#d" x="376.8" y="131.3"/><use href="#d" x="393.5" y="111.9"/><use href="#d" x="390.5" y="107.5"/><use href="#d" x="411.4" y="84.0"/><use href="#d" x="362.4" y="132.7"/><use href="#d" x="390.5" y="110.1"/><use href="#d" x="402.9" y="101.4"/><use href="#d" x="433.1" y="63.0"/><use href="#d" x="417.9" y="80.7"/><use href="#d" x="411.2" y="93.2"/><use href="#d" x="378.7" y="118.2"/><use href="#d" x="388.4" y="110.4"/><use href="#d" x="381.6" y="116.8"/><use href="#d" x="416.0" y="81.1"/><use href="#d" x="410.8" y="88.9"/><use href="#d" x="414.5" y="91.5"/><use href="#d" x="435.0" y="75.4"/><use href="#d" x="424.5" y="82.4"/><use href="#d" x="371.2" y="131.2"/><use href="#d" x="361.0" y="138.9"/><use href="#d" x="424.9" y="80.0"/><use href="#d" x="426.3" y="78.7"/><use href="#d" x="364.6" y="137.7"/><use href="#d" x="420.5" y="86.4"/><use href="#d" x="415.2" y="87.2"/><use href="#d" x="377.2" y="123.1"/><use href="#d" x="401.8" y="104.2"/><use href="#d" x="374.6" y="132.9"/><use href="#d" x="430.3" y="73.9"/><use href="#d" x="422.5" y="86.2"/><use href="#d" x="433.4" y="78.1"/><use href="#d" x="429.0" y="77.8"/><use href="#d" x="381.2" y="120.1"/><use href="#d" x="387.2" y="114.9"/><use href="#d" x="390.0" y="118.7"/><use href="#d" x="390.2" y="121.4"/><use href="#d" x="388.5" y="116.9"/><use href="#d" x="427.7" y="83.9"/><use href="#d" x="401.7" y="98.8"/><use href="#d" x="416.7" y="89.9"/><use href="#d" x="421.0" y="83.7"/><use href="#d" x="407.6" y="101.3"/><use href="#d" x="417.6" y="84.6"/><use href="#d" x="379.5" y="122.3"/><use href="#d" x="389.7" y="124.0"/><use href="#d" x="421.7" y="80.8"/><use href="#d" x="382.2" y="130.1"/><use href="#d" x="437.2" y="74.1"/><use href="#d" x="408.6" y="97.2"/><use href="#d" x="437.8" y="70.6"/><use href="#d" x="385.8" y="129.4"/><use href="#d" x="397.2" y="106.9"/><use href="#d" x="379.1" y="134.4"/><use href="#d" x="410.7" y="95.5"/><use href="#d" x="376.4" y="133.9"/><use href="#d" x="390.3" y="115.7"/><use href="#d" x="398.2" y="109.5"/><use href="#d" x="411.1" y="99.5"/><use href="#d" x="402.8" y="106.3"/><use href="#d" x="432.9" y="74.2"/><use href="#d" x="385.4" y="122.4"/><use href="#d" x="388.1" y="129.0"/><use href="#d" x="430.7" y="86.5"/><use href="#d" x="396.5" y="116.4"/><use href="#d" x="378.9" y="130.2"/><use href="#d" x="412.7" y="102.3"/><use href="#d" x="441.0" y="74.3"/><use href="#d" x="413.6" y="99.3"/><use href="#d" x="433.1" y="83.4"/><use href="#d" x="424.2" y="93.4"/><use href="#d" x="398.6" y="112.3"/><use href="#d" x="382.8" y="124.3"/><use href="#d" x="388.7" y="126.5"/><use href="#d" x="429.9" y="81.2"/><use href="#d" x="405.2" y="102.7"/><use href="#d" x="391.8" y="123.4"/><use href="#d" x="379.8" y="127.0"/><use href="#d" x="440.2" y="79.7"/><use href="#d" x="399.9" y="110.5"/><use href="#d" x="444.1" y="69.8"/><use href="#d" x="409.5" y="103.3"/><use href="#d" x="431.1" y="89.3"/><use href="#d" x="441.5" y="68.6"/><use href="#d" x="425.1" y="97.1"/><use href="#d" x="386.9" y="134.6"/><use href="#d" x="426.5" y="94.5"/><use href="#d" x="402.4" y="115.9"/><use href="#d" x="384.5" y="127.4"/><use href="#d" x="436.2" y="79.4"/><use href="#d" x="394.9" y="127.8"/><use href="#d" x="425.7" y="85.4"/><use href="#d" x="402.6" y="118.3"/><use href="#d" x="398.9" y="117.0"/><use href="#d" x="422.7" y="96.9"/><use href="#d" x="416.6" y="107.5"/><use href="#d" x="396.2" y="120.1"/><use href="#d" x="405.9" y="117.5"/><use href="#d" x="391.4" y="133.5"/><use href="#d" x="447.9" y="73.3"/><use href="#d" x="398.2" y="122.8"/><use href="#d" x="420.0" y="105.8"/><use href="#d" x="436.7" y="86.8"/><use href="#d" x="448.4" y="76.0"/><use href="#d" x="433.8" y="91.7"/><use href="#d" x="395.7" y="122.2"/><use href="#d" x="424.3" y="90.2"/><use href="#d" x="400.6" y="124.0"/><use href="#d" x="397.9" y="125.7"/><use href="#d" x="417.9" y="103.2"/><use href="#d" x="439.2" y="77.1"/><use href="#d" x="414.1" y="112.4"/><use href="#d" x="423.3" y="100.8"/><use href="#d" x="428.5" y="94.6"/><use href="#d" x="434.1" y="95.2"/><use href="#d" x="420.8" y="98.0"/><use href="#d" x="431.1" y="98.3"/><use href="#d" x="425.0" y="103.6"/><use href="#d" x="428.1" y="91.8"/><use href="#d" x="404.5" y="123.5"/><use href="#d" x="444.9" y="73.7"/><use href="#d" x="435.8" y="82.9"/><use href="#d" x="410.3" y="120.4"/><use href="#d" x="418.3" y="111.9"/><use href="#d" x="415.5" y="109.4"/><use href="#d" x="440.9" y="84.8"/><use href="#d" x="397.5" y="128.8"/><use href="#d" x="394.7" y="129.9"/><use href="#d" x="455.7" y="73.8"/><use href="#d" x="449.7" y="69.7"/><use href="#d" x="389.6" y="130.3"/><use href="#d" x="437.8" y="94.9"/><use href="#d" x="432.5" y="87.8"/><use href="#d" x="407.7" y="123.8"/><use href="#d" x="426.9" y="103.9"/><use href="#d" x="397.2" y="136.4"/><use href="#d" x="409.8" y="122.4"/><use href="#d" x="425.8" y="100.3"/><use href="#d" x="428.1" y="106.4"/><use href="#d" x="420.8" y="103.5"/><use href="#d" x="435.8" y="97.4"/><use href="#d" x="437.5" y="89.9"/><use href="#d" x="397.5" y="139.0"/><use href="#d" x="405.5" y="121.2"/><use href="#d" x="424.1" y="106.0"/><use href="#d" x="422.4" y="104.7"/><use href="#d" x="395.3" y="138.6"/><use href="#d" x="408.3" y="119.9"/><use href="#d" x="436.0" y="92.4"/><use href="#d" x="414.2" y="118.0"/><use href="#d" x="430.5" y="104.4"/><use href="#d" x="425.4" y="107.9"/><use href="#d" x="398.3" y="133.4"/><use href="#d" x="430.1" y="96.3"/><use href="#d" x="424.9" y="110.2"/><use href="#d" x="414.0" y="120.3"/><use href="#d" x="439.4" y="90.3"/><use href="#d" x="411.8" y="116.0"/><use href="#d" x="401.6" y="127.1"/><use href="#d" x="422.6" y="112.9"/><use href="#d" x="430.5" y="107.8"/><use href="#d" x="410.0" y="118.3"/><use href="#d" x="417.5" y="118.1"/><use href="#d" x="410.9" y="124.1"/><use href="#d" x="413.4" y="114.3"/><use href="#d" x="394.8" y="134.8"/><use href="#d" x="392.8" y="135.9"/><use href="#d" x="397.8" y="131.4"/><use href="#d" x="401.0" y="138.0"/><use href="#d" x="404.9" y="135.7"/><use href="#d" x="407.1" y="126.7"/><use href="#d" x="421.5" y="110.7"/><use href="#d" x="424.4" y="117.0"/><use href="#d" x="461.7" y="76.1"/><use href="#d" x="401.8" y="132.0"/><use href="#d" x="400.9" y="134.1"/><use href="#d" x="427.4" y="108.8"/><use href="#d" x="455.4" y="76.3"/><use href="#d" x="448.7" y="85.7"/><use href="#d" x="455.3" y="79.2"/><use href="#d" x="412.0" y="118.5"/><use href="#d" x="431.6" y="112.7"/><use href="#d" x="457.3" y="77.6"/><use href="#d" x="416.8" y="127.4"/><use href="#d" x="404.9" y="129.2"/><use href="#d" x="430.4" y="114.8"/><use href="#d" x="419.0" y="120.7"/><use href="#d" x="455.2" y="82.7"/><use href="#d" x="453.3" y="80.3"/><use href="#d" x="413.6" y="133.1"/><use href="#d" x="459.7" y="80.3"/><use href="#d" x="421.4" y="117.9"/><use href="#d" x="422.6" y="119.7"/><use href="#d" x="456.7" y="85.4"/><use href="#d" x="452.1" y="83.3"/><use href="#d" x="424.4" y="114.2"/><use href="#d" x="419.7" y="126.0"/><use href="#d" x="403.4" y="138.7"/><use href="#d" x="393.8" y="149.4"/><use href="#d" x="424.7" y="126.3"/><use href="#d" x="466.5" y="76.0"/><use href="#d" x="435.8" y="114.0"/><use href="#d" x="403.2" y="143.3"/><use href="#d" x="412.4" y="127.3"/><use href="#d" x="420.3" y="130.0"/><use href="#d" x="415.2" y="125.0"/><use href="#d" x="410.2" y="130.9"/><use href="#d" x="406.5" y="139.1"/><use href="#d" x="469.0" y="77.5"/><use href="#d" x="461.5" y="83.4"/><use href="#d" x="426.0" y="121.7"/><use href="#d" x="428.2" y="119.6"/><use href="#d" x="412.9" y="137.7"/><use href="#d" x="407.2" y="140.9"/><use href="#d" x="434.1" y="108.4"/><use href="#d" x="418.5" y="129.0"/><use href="#d" x="408.8" y="137.1"/><use href="#d" x="465.6" y="80.7"/><use href="#d" x="434.9" y="118.0"/><use href="#d" x="413.5" y="135.8"/><use href="#d" x="409.4" y="140.3"/><use href="#d" x="441.7" y="116.3"/><use href="#d" x="432.7" y="125.3"/><use href="#d" x="407.2" y="145.3"/><use href="#d" x="410.6" y="142.7"/><use href="#d" x="423.7" y="124.0"/><use href="#d" x="428.0" y="129.0"/><use href="#d" x="436.3" y="110.4"/><use href="#d" x="434.8" y="111.9"/><use href="#d" x="416.2" y="130.2"/><use href="#d" x="437.6" y="121.3"/><use href="#d" x="414.0" y="143.7"/><use href="#d" x="442.1" y="111.2"/><use href="#d" x="387.2" y="168.6"/><use href="#d" x="432.9" y="119.0"/><use href="#d" x="490.3" y="57.5"/><use href="#d" x="465.3" y="85.8"/><use href="#d" x="405.3" y="141.6"/><use href="#d" x="445.8" y="113.2"/><use href="#d" x="469.2" y="81.3"/><use href="#d" x="473.4" y="85.2"/><use href="#d" x="419.1" y="139.0"/><use href="#d" x="421.2" y="134.1"/><use href="#d" x="436.9" y="118.5"/><use href="#d" x="472.4" y="87.4"/><use href="#d" x="426.5" y="134.0"/><use href="#d" x="426.4" y="125.3"/><use href="#d" x="415.9" y="141.7"/><use href="#d" x="420.7" y="140.7"/><use href="#d" x="408.9" y="143.7"/><use href="#d" x="417.6" y="136.5"/><use href="#d" x="413.0" y="148.0"/><use href="#d" x="435.0" y="120.5"/><use href="#d" x="425.3" y="128.4"/><use href="#d" x="442.0" y="113.6"/><use href="#d" x="427.4" y="131.1"/><use href="#d" x="470.9" y="79.5"/><use href="#d" x="430.2" y="125.9"/><use href="#d" x="414.4" y="150.5"/><use href="#d" x="476.4" y="85.4"/><use href="#d" x="478.5" y="84.9"/><use href="#d" x="475.8" y="88.6"/><use href="#d" x="425.1" y="131.3"/><use href="#d" x="389.5" y="173.3"/><use href="#d" x="423.1" y="131.5"/><use href="#d" x="412.6" y="141.4"/><use href="#d" x="429.2" y="136.2"/><use href="#d" x="440.7" y="126.4"/><use href="#d" x="444.2" y="114.5"/><use href="#d" x="379.0" y="176.9"/><use href="#d" x="481.7" y="84.1"/><use href="#d" x="430.3" y="129.8"/><use href="#d" x="480.0" y="89.1"/><use href="#d" x="421.0" y="148.3"/><use href="#d" x="417.0" y="150.2"/><use href="#d" x="437.8" y="132.0"/><use href="#d" x="446.5" y="115.6"/><use href="#d" x="440.0" y="118.7"/><use href="#d" x="425.2" y="141.7"/><use href="#d" x="435.9" y="124.3"/><use href="#d" x="470.5" y="101.0"/><use href="#d" x="483.7" y="85.0"/><use href="#d" x="433.8" y="132.4"/><use href="#d" x="433.6" y="130.0"/><use href="#d" x="426.0" y="139.5"/><use href="#d" x="424.2" y="136.0"/><use href="#d" x="426.4" y="145.0"/><use href="#d" x="421.7" y="150.2"/><use href="#d" x="478.2" y="88.0"/><use href="#d" x="446.4" y="118.0"/><use href="#d" x="444.1" y="117.1"/><use href="#d" x="435.7" y="129.8"/><use href="#d" x="441.9" y="123.1"/><use href="#d" x="445.3" y="123.9"/><use href="#d" x="417.9" y="144.9"/><use href="#d" x="420.3" y="145.8"/><use href="#d" x="431.3" y="134.7"/><use href="#d" x="439.0" y="129.2"/><use href="#d" x="419.7" y="149.7"/><use href="#d" x="416.2" y="152.9"/><use href="#d" x="450.5" y="116.0"/><use href="#d" x="423.2" y="144.0"/><use href="#d" x="487.7" y="87.3"/><use href="#d" x="432.5" y="140.2"/><use href="#d" x="449.1" y="129.4"/><use href="#d" x="484.0" y="93.6"/><use href="#d" x="481.8" y="86.4"/><use href="#d" x="436.0" y="133.2"/><use href="#d" x="435.6" y="139.4"/><use href="#d" x="421.8" y="153.5"/><use href="#d" x="481.2" y="93.3"/><use href="#d" x="439.9" y="138.8"/><use href="#d" x="454.1" y="120.4"/><use href="#d" x="457.1" y="121.0"/><use href="#d" x="429.6" y="140.2"/><use href="#d" x="430.5" y="142.2"/><use href="#d" x="484.6" y="87.0"/><use href="#d" x="453.9" y="116.5"/><use href="#d" x="512.2" y="69.4"/><use href="#d" x="389.5" y="185.0"/><use href="#d" x="444.5" y="127.3"/><use href="#d" x="434.3" y="147.2"/><use href="#d" x="397.4" y="178.7"/><use href="#d" x="470.3" y="101.0"/><use href="#d" x="397.2" y="182.2"/><use href="#d" x="394.2" y="186.6"/><use href="#d" x="438.0" y="137.5"/><use href="#d" x="439.8" y="132.9"/><use href="#d" x="433.5" y="137.2"/><use href="#d" x="449.7" y="124.3"/><use href="#d" x="433.8" y="142.7"/><use href="#d" x="419.2" y="152.3"/><use href="#d" x="431.1" y="147.7"/><use href="#d" x="427.2" y="152.6"/><use href="#d" x="424.7" y="151.0"/><use href="#d" x="401.3" y="177.6"/><use href="#d" x="491.4" y="93.3"/><use href="#d" x="444.9" y="129.3"/><use href="#d" x="442.9" y="135.4"/><use href="#d" x="440.2" y="141.8"/><use href="#d" x="478.0" y="104.0"/><use href="#d" x="436.0" y="145.5"/><use href="#d" x="426.8" y="155.9"/><use href="#d" x="429.1" y="156.6"/><use href="#d" x="458.2" y="123.7"/><use href="#d" x="453.2" y="129.8"/><use href="#d" x="400.2" y="179.3"/><use href="#d" x="401.0" y="184.1"/><use href="#d" x="430.8" y="151.8"/><use href="#d" x="451.5" y="134.2"/><use href="#d" x="452.4" y="125.1"/><use href="#d" x="484.4" y="95.7"/><use href="#d" x="440.6" y="145.9"/><use href="#d" x="447.5" y="134.4"/><use href="#d" x="428.3" y="154.2"/><use href="#d" x="437.8" y="143.8"/><use href="#d" x="442.4" y="140.9"/><use href="#d" x="448.9" y="131.5"/><use href="#d" x="478.0" y="104.0"/><use href="#d" x="407.0" y="180.5"/><use href="#d" x="432.2" y="158.6"/><use href="#d" x="442.0" y="148.3"/><use href="#d" x="411.5" y="177.9"/><use href="#d" x="428.1" y="150.7"/><use href="#d" x="442.8" y="142.8"/><use href="#d" x="400.9" y="186.4"/><use href="#d" x="490.4" y="95.5"/><use href="#d" x="436.2" y="155.4"/><use href="#d" x="488.6" y="92.3"/><use href="#d" x="431.3" y="156.8"/><use href="#d" x="436.0" y="152.5"/><use href="#d" x="451.2" y="139.9"/><use href="#d" x="456.6" y="136.0"/><use href="#d" x="459.0" y="128.8"/><use href="#d" x="450.2" y="145.8"/><use href="#d" x="402.4" y="182.5"/><use href="#d" x="416.4" y="177.0"/><use href="#d" x="492.8" y="90.3"/><use href="#d" x="453.8" y="133.6"/><use href="#d" x="493.1" y="99.9"/><use href="#d" x="439.1" y="159.0"/><use href="#d" x="459.1" y="137.8"/><use href="#d" x="437.5" y="148.0"/><use href="#d" x="439.8" y="155.1"/><use href="#d" x="484.0" y="111.0"/><use href="#d" x="493.0" y="104.0"/><use href="#d" x="453.3" y="142.3"/><use href="#d" x="402.0" y="188.0"/><use href="#d" x="407.3" y="185.4"/><use href="#d" x="455.6" y="142.8"/><use href="#d" x="415.2" y="184.1"/><use href="#d" x="441.3" y="150.8"/><use href="#d" x="496.3" y="98.2"/><use href="#d" x="459.6" y="134.9"/><use href="#d" x="412.5" y="187.4"/><use href="#d" x="449.1" y="152.6"/><use href="#d" x="498.2" y="102.0"/><use href="#d" x="442.6" y="153.3"/><use href="#d" x="445.4" y="145.2"/><use href="#d" x="457.6" y="140.0"/><use href="#d" x="447.2" y="146.3"/><use href="#d" x="448.0" y="150.8"/><use href="#d" x="411.0" y="180.5"/><use href="#d" x="417.7" y="180.7"/><use href="#d" x="452.3" y="149.1"/><use href="#d" x="444.3" y="156.3"/><use href="#d" x="462.6" y="137.4"/><use href="#d" x="412.8" y="184.9"/><use href="#d" x="435.1" y="159.2"/><use href="#d" x="454.8" y="140.5"/><use href="#d" x="450.6" y="143.2"/><use href="#d" x="439.4" y="161.4"/><use href="#d" x="484.4" y="111.6"/><use href="#d" x="402.0" y="198.3"/><use href="#d" x="452.9" y="144.9"/><use href="#d" x="496.4" y="105.6"/><use href="#d" x="445.2" y="154.6"/><use href="#d" x="459.7" y="140.5"/><use href="#d" x="498.0" y="105.0"/><use href="#d" x="445.5" y="161.9"/><use href="#d" x="459.9" y="145.2"/><use href="#d" x="454.0" y="156.5"/><use href="#d" x="455.6" y="144.8"/><use href="#d" x="452.0" y="147.1"/><use href="#d" x="447.2" y="156.2"/><use href="#d" x="467.2" y="140.7"/><use href="#d" x="458.5" y="148.1"/><use href="#d" x="419.5" y="184.5"/><use href="#d" x="463.0" y="147.7"/><use href="#d" x="520.3" y="79.8"/><use href="#d" x="445.6" y="157.9"/><use href="#d" x="417.7" y="186.9"/><use href="#d" x="497.0" y="111.0"/><use href="#d" x="450.9" y="158.3"/><use href="#d" x="461.1" y="148.4"/><use href="#d" x="414.7" y="186.7"/><use href="#d" x="455.8" y="154.2"/><use href="#d" x="415.9" y="191.6"/><use href="#d" x="465.1" y="145.5"/><use href="#d" x="455.9" y="159.2"/><use href="#d" x="498.4" y="104.4"/><use href="#d" x="443.0" y="165.9"/><use href="#d" x="465.1" y="141.8"/><use href="#d" x="459.4" y="154.0"/><use href="#d" x="450.3" y="160.1"/><use href="#d" x="443.4" y="168.9"/><use href="#d" x="525.0" y="82.2"/><use href="#d" x="470.3" y="143.7"/><use href="#d" x="426.2" y="188.0"/><use href="#d" x="460.2" y="151.2"/><use href="#d" x="459.3" y="157.8"/><use href="#d" x="422.3" y="190.5"/><use href="#d" x="463.7" y="143.7"/><use href="#d" x="501.7" y="112.7"/><use href="#d" x="469.7" y="147.0"/><use href="#d" x="430.0" y="186.5"/><use href="#d" x="443.1" y="163.6"/><use href="#d" x="527.3" y="79.8"/><use href="#d" x="445.7" y="168.9"/><use href="#d" x="464.3" y="151.2"/><use href="#d" x="421.6" y="188.2"/><use href="#d" x="424.2" y="190.6"/><use href="#d" x="503.3" y="107.3"/><use href="#d" x="457.1" y="161.9"/><use href="#d" x="421.9" y="185.6"/><use href="#d" x="512.0" y="104.0"/><use href="#d" x="454.9" y="160.8"/><use href="#d" x="419.5" y="192.7"/><use href="#d" x="423.5" y="192.6"/><use href="#d" x="478.4" y="141.2"/><use href="#d" x="470.9" y="141.0"/><use href="#d" x="451.7" y="165.0"/><use href="#d" x="474.0" y="147.4"/><use href="#d" x="466.5" y="148.4"/><use href="#d" x="505.0" y="109.0"/><use href="#d" x="501.9" y="120.0"/><use href="#d" x="515.6" y="104.8"/><use href="#d" x="473.2" y="151.7"/><use href="#d" x="452.8" y="159.1"/><use href="#d" x="449.4" y="165.2"/><use href="#d" x="473.7" y="143.8"/><use href="#d" x="464.6" y="158.0"/><use href="#d" x="445.4" y="171.2"/><use href="#d" x="499.0" y="119.0"/><use href="#d" x="423.2" y="197.6"/><use href="#d" x="504.4" y="113.6"/><use href="#d" x="459.3" y="160.8"/><use href="#d" x="425.6" y="195.4"/><use href="#d" x="466.7" y="153.6"/><use href="#d" x="451.1" y="174.8"/><use href="#d" x="462.4" y="153.8"/><use href="#d" x="465.5" y="155.7"/><use href="#d" x="452.5" y="166.9"/><use href="#d" x="504.0" y="123.0"/><use href="#d" x="470.6" y="156.1"/><use href="#d" x="448.0" y="168.7"/><use href="#d" x="476.0" y="145.9"/><use href="#d" x="468.5" y="154.4"/><use href="#d" x="477.7" y="143.7"/><use href="#d" x="459.5" y="170.1"/><use href="#d" x="454.5" y="175.5"/><use href="#d" x="505.1" y="119.0"/><use href="#d" x="467.1" y="157.7"/><use href="#d" x="504.3" y="122.7"/><use href="#d" x="456.6" y="171.5"/><use href="#d" x="451.3" y="178.4"/><use href="#d" x="435.6" y="194.4"/><use href="#d" x="462.9" y="162.7"/><use href="#d" x="482.1" y="147.8"/><use href="#d" x="499.0" y="126.0"/><use href="#d" x="462.7" y="158.8"/><use href="#d" x="471.4" y="152.5"/><use href="#d" x="459.7" y="163.4"/><use href="#d" x="483.8" y="149.6"/><use href="#d" x="485.9" y="148.7"/><use href="#d" x="475.2" y="159.0"/><use href="#d" x="465.1" y="167.7"/><use href="#d" x="542.5" y="87.7"/><use href="#d" x="458.4" y="175.5"/><use href="#d" x="507.0" y="129.0"/><use href="#d" x="457.1" y="166.3"/><use href="#d" x="468.8" y="163.1"/><use href="#d" x="464.2" y="170.8"/><use href="#d" x="455.0" y="180.9"/><use href="#d" x="463.0" y="175.5"/><use href="#d" x="503.3" y="126.8"/><use href="#d" x="466.9" y="163.9"/><use href="#d" x="476.2" y="156.7"/><use href="#d" x="483.5" y="146.0"/><use href="#d" x="463.5" y="178.0"/><use href="#d" x="472.1" y="158.9"/><use href="#d" x="458.0" y="173.3"/><use href="#d" x="482.3" y="152.7"/><use href="#d" x="465.0" y="176.0"/><use href="#d" x="440.3" y="196.0"/><use href="#d" x="481.5" y="161.0"/><use href="#d" x="470.3" y="173.0"/><use href="#d" x="482.3" y="157.6"/><use href="#d" x="448.2" y="185.1"/><use href="#d" x="488.7" y="149.4"/><use href="#d" x="454.0" y="184.4"/><use href="#d" x="453.6" y="190.4"/><use href="#d" x="490.1" y="147.4"/><use href="#d" x="456.4" y="184.5"/><use href="#d" x="478.3" y="154.7"/><use href="#d" x="454.2" y="186.6"/><use href="#d" x="432.5" y="206.9"/><use href="#d" x="475.2" y="163.7"/><use href="#d" x="472.2" y="165.9"/><use href="#d" x="450.9" y="184.1"/><use href="#d" x="494.6" y="153.2"/><use href="#d" x="485.3" y="161.0"/><use href="#d" x="474.0" y="170.9"/><use href="#d" x="466.9" y="180.5"/><use href="#d" x="468.9" y="167.1"/><use href="#d" x="479.1" y="165.0"/><use href="#d" x="457.9" y="179.6"/><use href="#d" x="444.2" y="193.6"/><use href="#d" x="497.0" y="152.7"/><use href="#d" x="479.2" y="161.4"/><use href="#d" x="467.8" y="183.2"/><use href="#d" x="468.2" y="173.5"/><use href="#d" x="464.2" y="182.8"/><use href="#d" x="462.2" y="184.3"/><use href="#d" x="468.0" y="171.1"/><use href="#d" x="481.3" y="167.5"/><use href="#d" x="459.7" y="186.9"/><use href="#d" x="432.5" y="215.5"/><use href="#d" x="430.0" y="211.5"/><use href="#d" x="494.9" y="146.3"/><use href="#d" x="437.2" y="203.8"/><use href="#d" x="454.8" y="188.5"/><use href="#d" x="550.0" y="95.5"/><use href="#d" x="484.0" y="163.7"/><use href="#d" x="488.8" y="165.8"/><use href="#d" x="494.9" y="156.9"/><use href="#d" x="477.4" y="176.7"/><use href="#d" x="448.0" y="196.7"/><use href="#d" x="488.5" y="160.8"/><use href="#d" x="461.3" y="192.9"/><use href="#d" x="457.3" y="192.9"/><use href="#d" x="464.5" y="180.8"/><use href="#d" x="491.4" y="154.6"/><use href="#d" x="473.4" y="173.3"/><use href="#d" x="474.2" y="179.2"/><use href="#d" x="559.4" y="95.5"/><use href="#d" x="461.7" y="195.4"/><use href="#d" x="466.6" y="190.7"/><use href="#d" x="508.0" y="137.0"/><use href="#d" x="457.0" y="189.8"/><use href="#d" x="498.9" y="157.7"/><use href="#d" x="492.8" y="165.7"/><use href="#d" x="547.7" y="100.0"/><use href="#d" x="487.1" y="169.6"/><use href="#d" x="563.5" y="94.0"/><use href="#d" x="505.0" y="151.7"/><use href="#d" x="478.4" y="168.6"/><use href="#d" x="471.6" y="186.8"/><use href="#d" x="484.1" y="172.3"/><use href="#d" x="441.0" y="214.7"/><use href="#d" x="509.1" y="148.2"/><use href="#d" x="459.3" y="196.3"/><use href="#d" x="568.5" y="87.0"/><use href="#d" x="475.7" y="175.2"/><use href="#d" x="494.2" y="167.4"/><use href="#d" x="490.5" y="160.7"/><use href="#d" x="469.5" y="181.3"/><use href="#d" x="489.3" y="158.9"/><use href="#d" x="470.7" y="179.0"/><use href="#d" x="465.5" y="194.3"/><use href="#d" x="539.8" y="111.9"/><use href="#d" x="493.7" y="160.1"/><use href="#d" x="541.4" y="118.0"/><use href="#d" x="507.2" y="147.5"/><use href="#d" x="456.9" y="202.4"/><use href="#d" x="471.2" y="189.8"/><use href="#d" x="480.2" y="170.5"/><use href="#d" x="556.0" y="104.0"/><use href="#d" x="474.0" y="176.9"/><use href="#d" x="507.2" y="156.2"/><use href="#d" x="505.6" y="149.5"/><use href="#d" x="490.9" y="169.0"/><use href="#d" x="490.7" y="167.1"/><use href="#d" x="482.4" y="169.1"/><use href="#d" x="504.9" y="154.9"/><use href="#d" x="479.8" y="175.1"/><use href="#d" x="466.1" y="186.6"/><use href="#d" x="507.9" y="153.8"/><use href="#d" x="471.5" y="183.6"/><use href="#d" x="474.2" y="186.0"/><use href="#d" x="476.5" y="179.9"/><use href="#d" x="462.0" y="200.0"/><use href="#d" x="464.8" y="188.1"/><use href="#d" x="491.2" y="164.5"/><use href="#d" x="498.1" y="155.3"/><use href="#d" x="512.0" y="141.0"/><use href="#d" x="502.0" y="157.0"/><use href="#d" x="561.5" y="104.0"/><use href="#d" x="448.0" y="215.5"/><use href="#d" x="482.0" y="172.7"/><use href="#d" x="471.7" y="195.0"/><use href="#d" x="459.6" y="199.4"/><use href="#d" x="453.4" y="210.3"/><use href="#d" x="575.0" y="91.0"/><use href="#d" x="514.8" y="150.9"/><use href="#d" x="468.5" y="185.9"/><use href="#d" x="483.7" y="182.3"/><use href="#d" x="481.4" y="176.7"/><use href="#d" x="458.2" y="204.3"/><use href="#d" x="463.0" y="197.3"/><use href="#d" x="476.8" y="184.8"/><use href="#d" x="488.3" y="171.4"/><use href="#d" x="515.0" y="146.0"/><use href="#d" x="456.8" y="211.5"/><use href="#d" x="469.6" y="195.1"/><use href="#d" x="482.0" y="180.9"/><use href="#d" x="474.6" y="191.7"/><use href="#d" x="491.8" y="175.6"/><use href="#d" x="489.6" y="174.9"/><use href="#d" x="463.2" y="205.5"/><use href="#d" x="466.5" y="203.7"/><use href="#d" x="512.3" y="156.5"/><use href="#d" x="496.6" y="160.5"/><use href="#d" x="545.3" y="113.4"/><use href="#d" x="448.9" y="221.5"/><use href="#d" x="455.0" y="204.3"/><use href="#d" x="474.4" y="188.5"/><use href="#d" x="483.6" y="174.4"/><use href="#d" x="474.2" y="195.2"/><use href="#d" x="452.4" y="213.5"/><use href="#d" x="469.0" y="197.2"/><use href="#d" x="484.2" y="180.4"/><use href="#d" x="498.9" y="173.0"/><use href="#d" x="494.5" y="177.1"/><use href="#d" x="479.7" y="189.5"/><use href="#d" x="543.8" y="122.8"/><use href="#d" x="481.6" y="191.0"/><use href="#d" x="443.4" y="217.8"/><use href="#d" x="451.4" y="209.6"/><use href="#d" x="505.2" y="158.2"/><use href="#d" x="488.9" y="179.1"/><use href="#d" x="487.2" y="184.1"/><use href="#d" x="470.7" y="192.6"/><use href="#d" x="463.4" y="201.8"/><use href="#d" x="500.8" y="174.1"/><use href="#d" x="476.8" y="192.8"/><use href="#d" x="510.0" y="157.0"/><use href="#d" x="454.6" y="211.9"/><use href="#d" x="491.1" y="179.1"/><use href="#d" x="444.2" y="224.0"/><use href="#d" x="479.2" y="187.4"/><use href="#d" x="495.4" y="173.0"/><use href="#d" x="493.4" y="171.9"/><use href="#d" x="457.1" y="218.7"/><use href="#d" x="549.2" y="120.5"/><use href="#d" x="515.5" y="148.9"/><use href="#d" x="519.0" y="152.0"/><use href="#d" x="486.9" y="180.3"/><use href="#d" x="570.0" y="95.0"/><use href="#d" x="450.9" y="218.6"/><use href="#d" x="496.1" y="179.8"/><use href="#d" x="513.4" y="152.6"/><use href="#d" x="480.6" y="196.1"/><use href="#d" x="474.0" y="205.2"/><use href="#d" x="487.8" y="187.1"/><use href="#d" x="573.0" y="96.5"/><use href="#d" x="483.9" y="190.3"/><use href="#d" x="451.9" y="222.4"/><use href="#d" x="585.0" y="95.0"/><use href="#d" x="467.5" y="200.1"/><use href="#d" x="453.9" y="220.9"/><use href="#d" x="465.7" y="208.5"/><use href="#d" x="488.9" y="191.9"/><use href="#d" x="459.6" y="218.7"/><use href="#d" x="471.0" y="210.6"/><use href="#d" x="482.2" y="194.9"/><use href="#d" x="541.5" y="132.0"/><use href="#d" x="467.7" y="206.7"/><use href="#d" x="485.8" y="198.1"/><use href="#d" x="491.2" y="192.7"/><use href="#d" x="468.5" y="209.2"/><use href="#d" x="464.3" y="211.4"/><use href="#d" x="518.6" y="153.1"/><use href="#d" x="584.3" y="98.9"/><use href="#d" x="475.6" y="207.4"/><use href="#d" x="484.5" y="194.0"/><use href="#d" x="459.6" y="213.8"/><use href="#d" x="500.6" y="183.5"/><use href="#d" x="508.4" y="175.5"/><use href="#d" x="498.0" y="176.1"/><use href="#d" x="487.1" y="192.9"/><use href="#d" x="492.9" y="194.3"/><use href="#d" x="485.5" y="200.6"/><use href="#d" x="491.7" y="183.6"/><use href="#d" x="503.9" y="177.0"/><use href="#d" x="473.1" y="209.7"/><use href="#d" x="459.9" y="223.9"/><use href="#d" x="456.2" y="223.6"/><use href="#d" x="474.1" y="214.6"/><use href="#d" x="493.8" y="191.0"/><use href="#d" x="467.5" y="211.1"/><use href="#d" x="486.6" y="194.9"/><use href="#d" x="458.7" y="222.4"/><use href="#d" x="551.0" y="135.5"/><use href="#d" x="586.0" y="99.0"/><use href="#d" x="499.0" y="177.9"/><use href="#d" x="465.2" y="218.6"/><use href="#d" x="505.5" y="179.1"/><use href="#d" x="463.1" y="214.9"/><use href="#d" x="454.0" y="226.6"/><use href="#d" x="476.8" y="210.1"/><use href="#d" x="503.1" y="187.3"/><use href="#d" x="586.4" y="100.2"/><use href="#d" x="502.2" y="182.1"/><use href="#d" x="490.5" y="194.7"/><use href="#d" x="588.8" y="98.2"/><use href="#d" x="469.7" y="219.6"/><use href="#d" x="491.3" y="198.3"/><use href="#d" x="500.6" y="188.3"/><use href="#d" x="496.7" y="186.3"/><use href="#d" x="472.5" y="217.8"/><use href="#d" x="501.4" y="186.1"/><use href="#d" x="498.4" y="190.5"/><use href="#d" x="570.8" y="115.0"/><use href="#d" x="561.0" y="133.0"/><use href="#d" x="490.3" y="201.5"/><use href="#d" x="483.1" y="198.4"/><use href="#d" x="498.1" y="192.6"/><use href="#d" x="467.7" y="221.5"/><use href="#d" x="462.0" y="226.2"/><use href="#d" x="478.4" y="212.6"/><use href="#d" x="593.5" y="104.0"/><use href="#d" x="570.5" y="114.5"/><use href="#d" x="508.5" y="188.6"/><use href="#d" x="470.9" y="214.5"/><use href="#d" x="472.1" y="224.6"/><use href="#d" x="476.3" y="215.8"/><use href="#d" x="490.0" y="204.2"/><use href="#d" x="475.7" y="219.6"/><use href="#d" x="511.0" y="189.6"/><use href="#d" x="498.8" y="201.0"/><use href="#d" x="493.5" y="198.9"/><use href="#d" x="592.0" y="102.4"/><use href="#d" x="490.9" y="206.6"/><use href="#d" x="463.2" y="230.0"/><use href="#d" x="505.9" y="183.2"/><use href="#d" x="463.2" y="233.1"/><use href="#d" x="465.6" y="229.5"/><use href="#d" x="508.5" y="183.2"/><use href="#d" x="499.6" y="196.0"/><use href="#d" x="512.6" y="178.4"/><use href="#d" x="502.5" y="199.8"/><use href="#d" x="598.5" y="102.5"/><use href="#d" x="494.3" y="195.7"/><use href="#d" x="461.2" y="231.1"/><use href="#d" x="587.9" y="102.5"/><use href="#d" x="515.7" y="183.2"/><use href="#d" x="501.6" y="196.3"/><use href="#d" x="519.3" y="179.2"/><use href="#d" x="504.3" y="192.7"/><use href="#d" x="503.6" y="195.6"/><use href="#d" x="510.6" y="182.6"/><use href="#d" x="511.1" y="185.8"/><use href="#d" x="479.4" y="224.6"/><use href="#d" x="467.7" y="229.6"/><use href="#d" x="500.1" y="198.2"/><use href="#d" x="470.2" y="224.1"/><use href="#d" x="482.0" y="221.8"/><use href="#d" x="514.9" y="187.9"/><use href="#d" x="465.8" y="236.3"/><use href="#d" x="499.5" y="203.8"/><use href="#d" x="565.0" y="142.0"/><use href="#d" x="478.0" y="227.3"/><use href="#d" x="503.1" y="201.8"/><use href="#d" x="497.3" y="199.7"/><use href="#d" x="470.4" y="234.0"/><use href="#d" x="515.4" y="180.0"/><use href="#d" x="481.0" y="225.9"/><use href="#d" x="474.1" y="221.4"/><use href="#d" x="595.7" y="103.9"/><use href="#d" x="518.6" y="188.8"/><use href="#d" x="468.3" y="227.4"/><use href="#d" x="473.7" y="226.1"/><use href="#d" x="510.4" y="193.9"/><use href="#d" x="493.2" y="202.4"/><use href="#d" x="508.9" y="199.6"/><use href="#d" x="497.0" y="207.0"/><use href="#d" x="597.4" y="105.4"/><use href="#d" x="475.6" y="229.9"/><use href="#d" x="584.0" y="122.0"/><use href="#d" x="478.6" y="218.5"/><use href="#d" x="584.0" y="122.5"/><use href="#d" x="492.3" y="217.0"/><use href="#d" x="465.9" y="233.3"/><use href="#d" x="495.0" y="213.2"/><use href="#d" x="478.5" y="222.6"/><use href="#d" x="600.7" y="102.8"/><use href="#d" x="493.5" y="206.5"/><use href="#d" x="604.8" y="105.1"/><use href="#d" x="473.9" y="236.3"/><use href="#d" x="524.9" y="180.7"/><use href="#d" x="497.0" y="212.6"/><use href="#d" x="477.2" y="231.5"/><use href="#d" x="593.2" y="105.0"/><use href="#d" x="473.5" y="228.3"/><use href="#d" x="493.9" y="209.9"/><use href="#d" x="515.0" y="191.1"/><use href="#d" x="508.3" y="192.9"/><use href="#d" x="472.9" y="231.8"/><use href="#d" x="599.7" y="107.5"/><use href="#d" x="521.4" y="186.1"/><use href="#d" x="474.8" y="234.0"/><use href="#d" x="481.3" y="228.8"/><use href="#d" x="497.6" y="215.8"/><use href="#d" x="573.0" y="140.0"/><use href="#d" x="469.3" y="239.2"/><use href="#d" x="469.0" y="236.8"/><use href="#d" x="510.5" y="191.9"/><use href="#d" x="520.8" y="191.9"/><use href="#d" x="523.3" y="185.2"/><use href="#d" x="516.3" y="192.8"/><use href="#d" x="506.2" y="197.9"/><use href="#d" x="504.7" y="209.8"/><use href="#d" x="529.4" y="185.1"/><use href="#d" x="584.0" y="122.3"/><use href="#d" x="472.9" y="242.6"/><use href="#d" x="497.1" y="210.3"/><use href="#d" x="499.9" y="215.5"/><use href="#d" x="499.8" y="206.1"/><use href="#d" x="504.5" y="207.0"/><use href="#d" x="525.4" y="184.5"/><use href="#d" x="502.7" y="211.2"/><use href="#d" x="602.1" y="107.2"/><use href="#d" x="519.3" y="197.8"/><use href="#d" x="573.0" y="140.3"/><use href="#d" x="480.5" y="238.8"/><use href="#d" x="505.6" y="212.2"/><use href="#d" x="486.2" y="228.3"/><use href="#d" x="575.0" y="140.0"/><use href="#d" x="511.8" y="204.7"/><use href="#d" x="510.5" y="197.5"/><use href="#d" x="484.6" y="231.6"/><use href="#d" x="516.8" y="195.8"/><use href="#d" x="605.6" y="110.4"/><use href="#d" x="506.6" y="206.7"/><use href="#d" x="522.7" y="187.9"/><use href="#d" x="480.4" y="236.7"/><use href="#d" x="601.9" y="109.0"/><use href="#d" x="525.8" y="196.7"/><use href="#d" x="509.5" y="204.3"/><use href="#d" x="610.2" y="109.1"/><use href="#d" x="520.5" y="203.1"/><use href="#d" x="529.6" y="189.5"/><use href="#d" x="505.4" y="216.6"/><use href="#d" x="516.3" y="203.3"/><use href="#d" x="523.3" y="196.2"/><use href="#d" x="525.5" y="187.4"/><use href="#d" x="500.0" y="212.0"/><use href="#d" x="520.2" y="199.5"/><use href="#d" x="529.7" y="192.4"/><use href="#d" x="482.7" y="232.5"/><use href="#d" x="533.2" y="186.3"/><use href="#d" x="508.1" y="211.7"/><use href="#d" x="510.0" y="214.5"/><use href="#d" x="514.2" y="208.1"/><use href="#d" x="480.3" y="233.8"/><use href="#d" x="528.7" y="187.3"/><use href="#d" x="504.0" y="220.4"/><use href="#d" x="609.0" y="113.0"/><use href="#d" x="609.3" y="116.5"/><use href="#d" x="612.1" y="109.5"/><use href="#d" x="511.8" y="215.3"/><use href="#d" x="483.1" y="243.7"/><use href="#d" x="507.5" y="214.4"/><use href="#d" x="517.3" y="198.4"/><use href="#d" x="613.8" y="112.7"/><use href="#d" x="611.2" y="106.4"/><use href="#d" x="484.9" y="233.8"/><use href="#d" x="595.8" y="131.4"/><use href="#d" x="535.0" y="189.8"/><use href="#d" x="530.0" y="198.9"/><use href="#d" x="475.9" y="240.5"/><use href="#d" x="525.0" y="193.5"/><use href="#d" x="478.1" y="243.2"/><use href="#d" x="531.2" y="191.2"/><use href="#d" x="488.0" y="229.7"/><use href="#d" x="607.3" y="109.8"/><use href="#d" x="506.8" y="219.6"/><use href="#d" x="617.6" y="110.0"/><use href="#d" x="518.4" y="201.8"/><use href="#d" x="534.0" y="194.8"/><use href="#d" x="484.7" y="237.2"/><use href="#d" x="526.5" y="191.2"/><use href="#d" x="619.1" y="111.7"/><use href="#d" x="526.8" y="204.6"/><use href="#d" x="517.9" y="206.0"/><use href="#d" x="488.2" y="232.2"/><use href="#d" x="611.4" y="114.9"/><use href="#d" x="538.2" y="193.2"/><use href="#d" x="483.4" y="240.5"/><use href="#d" x="609.6" y="118.5"/><use href="#d" x="528.7" y="196.3"/><use href="#d" x="514.4" y="216.2"/><use href="#d" x="584.8" y="142.7"/><use href="#d" x="491.9" y="230.7"/><use href="#d" x="522.2" y="205.8"/><use href="#d" x="525.6" y="206.2"/><use href="#d" x="491.5" y="235.2"/><use href="#d" x="501.3" y="219.2"/><use href="#d" x="494.9" y="233.6"/><use href="#d" x="539.2" y="187.5"/><use href="#d" x="491.7" y="237.6"/><use href="#d" x="490.8" y="243.3"/><use href="#d" x="481.0" y="242.6"/><use href="#d" x="477.4" y="245.3"/><use href="#d" x="506.5" y="221.5"/><use href="#d" x="616.0" y="113.4"/><use href="#d" x="596.6" y="133.6"/><use href="#d" x="484.6" y="245.4"/><use href="#d" x="493.5" y="241.1"/><use href="#d" x="543.0" y="189.9"/><use href="#d" x="523.9" y="209.4"/><use href="#d" x="516.7" y="208.0"/><use href="#d" x="532.9" y="203.5"/><use href="#d" x="525.2" y="199.5"/><use href="#d" x="518.1" y="217.8"/><use href="#d" x="510.5" y="222.5"/><use href="#d" x="525.4" y="211.0"/><use href="#d" x="509.2" y="219.8"/><use href="#d" x="597.4" y="128.1"/><use href="#d" x="509.1" y="217.0"/><use href="#d" x="521.0" y="207.6"/><use href="#d" x="524.4" y="202.4"/><use href="#d" x="611.7" y="117.5"/><use href="#d" x="497.5" y="238.2"/><use href="#d" x="524.3" y="213.0"/><use href="#d" x="484.6" y="249.7"/><use href="#d" x="531.7" y="207.2"/><use href="#d" x="521.8" y="216.9"/><use href="#d" x="542.7" y="193.6"/><use href="#d" x="600.6" y="136.1"/><use href="#d" x="513.5" y="222.5"/><use href="#d" x="585.0" y="142.5"/><use href="#d" x="545.7" y="192.7"/><use href="#d" x="504.1" y="237.1"/><use href="#d" x="594.5" y="142.7"/><use href="#d" x="489.8" y="239.0"/><use href="#d" x="528.2" y="206.1"/><use href="#d" x="487.5" y="251.3"/><use href="#d" x="489.3" y="248.5"/><use href="#d" x="528.6" y="200.8"/><use href="#d" x="530.8" y="202.5"/><use href="#d" x="607.5" y="129.7"/><use href="#d" x="617.7" y="115.3"/><use href="#d" x="489.4" y="251.4"/><use href="#d" x="604.2" y="135.5"/><use href="#d" x="491.9" y="249.3"/><use href="#d" x="547.1" y="189.2"/><use href="#d" x="532.6" y="201.1"/><use href="#d" x="600.5" y="131.2"/><use href="#d" x="619.7" y="113.4"/><use href="#d" x="524.1" y="215.9"/><use href="#d" x="521.9" y="210.9"/><use href="#d" x="622.7" y="119.9"/><use href="#d" x="598.2" y="142.0"/><use href="#d" x="535.1" y="206.3"/><use href="#d" x="516.9" y="222.2"/><use href="#d" x="499.3" y="240.0"/><use href="#d" x="515.8" y="219.9"/><use href="#d" x="503.4" y="234.7"/><use href="#d" x="488.5" y="244.5"/><use href="#d" x="516.4" y="224.2"/><use href="#d" x="497.9" y="243.8"/><use href="#d" x="502.1" y="245.4"/><use href="#d" x="610.3" y="137.2"/><use href="#d" x="533.7" y="210.6"/><use href="#d" x="607.7" y="132.3"/><use href="#d" x="624.0" y="114.5"/><use href="#d" x="621.0" y="116.1"/><use href="#d" x="515.2" y="229.3"/><use href="#d" x="494.3" y="243.0"/><use href="#d" x="505.2" y="242.2"/><use href="#d" x="612.4" y="129.5"/><use href="#d" x="596.8" y="138.2"/><use href="#d" x="494.6" y="247.7"/><use href="#d" x="599.4" y="139.1"/><use href="#d" x="519.8" y="221.5"/><use href="#d" x="498.2" y="250.0"/><use href="#d" x="529.0" y="210.5"/><use href="#d" x="511.9" y="238.0"/><use href="#d" x="626.8" y="113.1"/><use href="#d" x="617.3" y="133.6"/><use href="#d" x="549.8" y="191.0"/><use href="#d" x="525.0" y="226.6"/><use href="#d" x="604.4" y="142.7"/><use href="#d" x="508.1" y="241.9"/><use href="#d" x="538.2" y="207.4"/><use href="#d" x="627.3" y="116.0"/><use href="#d" x="615.1" y="135.4"/><use href="#d" x="610.4" y="130.5"/><use href="#d" x="545.4" y="207.2"/><use href="#d" x="623.5" y="116.3"/><use href="#d" x="603.4" y="139.5"/><use href="#d" x="549.4" y="195.3"/><use href="#d" x="531.2" y="210.5"/><use href="#d" x="525.5" y="219.9"/><use href="#d" x="495.7" y="249.8"/><use href="#d" x="606.0" y="137.6"/><use href="#d" x="487.4" y="253.8"/><use href="#d" x="612.3" y="134.8"/><use href="#d" x="607.7" y="135.7"/><use href="#d" x="527.0" y="215.1"/><use href="#d" x="530.4" y="220.2"/><use href="#d" x="507.7" y="246.7"/><use href="#d" x="532.4" y="213.7"/><use href="#d" x="556.6" y="195.8"/><use href="#d" x="544.5" y="209.4"/><use href="#d" x="520.8" y="225.7"/><use href="#d" x="601.4" y="142.0"/><use href="#d" x="509.4" y="240.1"/><use href="#d" x="606.2" y="140.6"/><use href="#d" x="505.2" y="244.4"/><use href="#d" x="536.3" y="219.5"/><use href="#d" x="523.4" y="224.4"/><use href="#d" x="526.7" y="224.2"/><use href="#d" x="509.6" y="245.8"/><use href="#d" x="509.9" y="242.9"/><use href="#d" x="496.1" y="254.8"/><use href="#d" x="493.2" y="253.2"/><use href="#d" x="494.4" y="257.9"/><use href="#d" x="541.2" y="213.1"/><use href="#d" x="502.9" y="243.6"/><use href="#d" x="534.7" y="217.2"/><use href="#d" x="527.9" y="218.8"/><use href="#d" x="613.8" y="139.4"/><use href="#d" x="530.2" y="216.6"/><use href="#d" x="536.4" y="213.4"/><use href="#d" x="507.3" y="250.1"/><use href="#d" x="609.9" y="144.4"/><use href="#d" x="512.9" y="235.2"/><use href="#d" x="542.9" y="206.8"/><use href="#d" x="606.1" y="146.0"/><use href="#d" x="500.2" y="248.9"/><use href="#d" x="610.5" y="147.2"/><use href="#d" x="554.1" y="193.1"/><use href="#d" x="538.4" y="214.4"/><use href="#d" x="624.7" y="130.0"/><use href="#d" x="538.0" y="222.2"/><use href="#d" x="511.4" y="240.6"/><use href="#d" x="509.6" y="248.8"/><use href="#d" x="532.2" y="221.8"/><use href="#d" x="630.4" y="118.0"/><use href="#d" x="516.5" y="236.0"/><use href="#d" x="552.2" y="207.4"/><use href="#d" x="528.1" y="221.3"/><use href="#d" x="502.2" y="257.1"/><use href="#d" x="512.9" y="245.5"/><use href="#d" x="507.5" y="252.2"/><use href="#d" x="514.6" y="240.7"/><use href="#d" x="614.5" y="142.3"/><use href="#d" x="497.5" y="264.6"/><use href="#d" x="534.5" y="222.1"/><use href="#d" x="538.6" y="220.0"/><use href="#d" x="543.4" y="214.5"/><use href="#d" x="517.2" y="241.5"/><use href="#d" x="530.1" y="226.0"/><use href="#d" x="540.2" y="221.9"/><use href="#d" x="536.8" y="217.0"/><use href="#d" x="499.9" y="255.0"/><use href="#d" x="540.8" y="216.8"/><use href="#d" x="615.9" y="145.7"/><use href="#d" x="615.9" y="139.3"/><use href="#d" x="547.4" y="215.6"/><use href="#d" x="564.0" y="197.1"/><use href="#d" x="630.1" y="131.8"/><use href="#d" x="543.0" y="217.9"/><use href="#d" x="534.8" y="228.7"/><use href="#d" x="546.3" y="219.0"/><use href="#d" x="562.2" y="202.1"/><use href="#d" x="618.4" y="137.2"/><use href="#d" x="503.5" y="250.0"/><use href="#d" x="517.0" y="245.6"/><use href="#d" x="498.3" y="259.5"/><use href="#d" x="532.6" y="229.9"/><use href="#d" x="623.4" y="135.7"/><use href="#d" x="537.8" y="227.5"/><use href="#d" x="530.3" y="229.8"/><use href="#d" x="509.9" y="253.8"/><use href="#d" x="534.9" y="232.4"/><use href="#d" x="504.9" y="258.1"/><use href="#d" x="548.6" y="208.8"/><use href="#d" x="555.0" y="209.9"/><use href="#d" x="549.0" y="212.4"/><use href="#d" x="547.0" y="210.4"/><use href="#d" x="503.1" y="265.1"/><use href="#d" x="498.6" y="262.3"/><use href="#d" x="549.1" y="222.3"/><use href="#d" x="536.0" y="235.5"/><use href="#d" x="495.9" y="263.3"/><use href="#d" x="518.6" y="249.3"/><use href="#d" x="624.2" y="137.8"/><use href="#d" x="540.4" y="226.9"/><use href="#d" x="560.0" y="208.8"/><use href="#d" x="618.7" y="141.6"/><use href="#d" x="508.2" y="262.3"/><use href="#d" x="501.9" y="262.4"/><use href="#d" x="516.6" y="251.4"/><use href="#d" x="540.9" y="230.7"/><use href="#d" x="622.2" y="140.0"/><use href="#d" x="538.8" y="230.5"/><use href="#d" x="514.3" y="248.1"/><use href="#d" x="621.4" y="143.4"/><use href="#d" x="511.5" y="250.7"/><use href="#d" x="633.3" y="140.7"/><use href="#d" x="507.6" y="264.5"/><use href="#d" x="542.7" y="229.3"/><use href="#d" x="635.8" y="134.5"/><use href="#d" x="618.5" y="144.1"/><use href="#d" x="616.7" y="151.3"/><use href="#d" x="520.1" y="254.8"/><use href="#d" x="567.6" y="208.0"/><use href="#d" x="529.0" y="247.8"/><use href="#d" x="571.4" y="200.4"/><use href="#d" x="567.4" y="198.1"/><use href="#d" x="557.6" y="210.5"/><use href="#d" x="509.9" y="259.9"/><use href="#d" x="543.4" y="225.8"/><use href="#d" x="541.1" y="235.2"/><use href="#d" x="536.6" y="238.8"/><use href="#d" x="530.2" y="246.0"/><use href="#d" x="553.6" y="219.0"/><use href="#d" x="556.4" y="212.4"/><use href="#d" x="545.1" y="222.4"/><use href="#d" x="629.2" y="146.0"/><use href="#d" x="619.4" y="146.6"/><use href="#d" x="514.6" y="251.1"/><use href="#d" x="541.7" y="232.9"/><use href="#d" x="626.8" y="143.6"/><use href="#d" x="516.9" y="253.3"/><use href="#d" x="629.3" y="141.3"/><use href="#d" x="524.7" y="251.3"/><use href="#d" x="567.9" y="203.8"/><use href="#d" x="635.7" y="137.0"/><use href="#d" x="563.5" y="206.1"/><use href="#d" x="569.1" y="205.9"/><use href="#d" x="641.1" y="137.4"/><use href="#d" x="557.5" y="220.0"/><use href="#d" x="531.8" y="244.9"/><use href="#d" x="548.3" y="225.8"/><use href="#d" x="639.5" y="139.0"/><use href="#d" x="620.9" y="150.8"/><use href="#d" x="513.4" y="260.7"/><use href="#d" x="517.3" y="264.1"/><use href="#d" x="545.7" y="224.7"/><use href="#d" x="513.2" y="264.0"/><use href="#d" x="571.8" y="205.3"/><use href="#d" x="543.8" y="236.5"/><use href="#d" x="630.4" y="148.2"/><use href="#d" x="564.6" y="216.1"/><use href="#d" x="553.4" y="222.2"/><use href="#d" x="550.5" y="220.1"/><use href="#d" x="510.3" y="261.9"/><use href="#d" x="637.3" y="143.5"/><use href="#d" x="625.2" y="147.0"/><use href="#d" x="574.8" y="205.0"/><use href="#d" x="531.8" y="247.6"/><use href="#d" x="621.3" y="155.6"/><use href="#d" x="533.6" y="248.8"/><use href="#d" x="534.3" y="241.3"/><use href="#d" x="524.2" y="247.9"/><use href="#d" x="521.9" y="254.0"/><use href="#d" x="519.9" y="257.1"/><use href="#d" x="572.5" y="210.4"/><use href="#d" x="637.8" y="135.9"/><use href="#d" x="556.1" y="227.0"/><use href="#d" x="521.9" y="256.8"/><use href="#d" x="559.2" y="212.7"/><use href="#d" x="556.8" y="217.7"/><use href="#d" x="530.9" y="253.7"/><use href="#d" x="545.5" y="235.0"/><use href="#d" x="632.2" y="150.9"/><use href="#d" x="624.9" y="156.9"/><use href="#d" x="538.0" y="235.2"/><use href="#d" x="522.5" y="251.7"/><use href="#d" x="623.3" y="158.8"/><use href="#d" x="552.5" y="229.0"/><use href="#d" x="571.9" y="207.7"/><use href="#d" x="546.3" y="230.1"/><use href="#d" x="498.0" y="288.0"/><use href="#d" x="567.3" y="212.2"/><use href="#d" x="516.6" y="258.2"/><use href="#d" x="569.9" y="211.5"/><use href="#d" x="568.0" y="214.8"/><use href="#d" x="550.3" y="238.0"/><use href="#d" x="550.2" y="227.3"/><use href="#d" x="540.9" y="243.6"/><use href="#d" x="525.6" y="258.7"/><use href="#d" x="542.5" y="242.0"/><use href="#d" x="558.3" y="230.0"/><use href="#d" x="574.6" y="209.8"/><use href="#d" x="541.4" y="237.6"/><use href="#d" x="555.7" y="229.6"/><use href="#d" x="547.5" y="240.9"/><use href="#d" x="629.8" y="153.1"/><use href="#d" x="573.4" y="203.2"/><use href="#d" x="529.5" y="257.7"/><use href="#d" x="532.0" y="256.1"/><use href="#d" x="527.4" y="251.4"/><use href="#d" x="539.5" y="247.9"/><use href="#d" x="574.9" y="212.1"/><use href="#d" x="539.5" y="245.9"/><use href="#d" x="568.3" y="217.0"/><use href="#d" x="545.7" y="239.0"/><use href="#d" x="522.6" y="259.4"/><use href="#d" x="534.3" y="253.6"/><use href="#d" x="575.9" y="203.3"/><use href="#d" x="555.4" y="224.0"/><use href="#d" x="632.0" y="153.7"/><use href="#d" x="569.3" y="220.6"/><use href="#d" x="538.3" y="250.7"/><use href="#d" x="535.1" y="243.8"/><use href="#d" x="512.4" y="266.9"/><use href="#d" x="509.9" y="272.0"/><use href="#d" x="611.4" y="170.8"/><use href="#d" x="564.9" y="219.6"/><use href="#d" x="518.8" y="261.6"/><use href="#d" x="526.2" y="261.3"/><use href="#d" x="576.0" y="215.8"/><use href="#d" x="642.9" y="145.0"/><use href="#d" x="515.7" y="268.1"/><use href="#d" x="628.9" y="158.4"/><use href="#d" x="538.2" y="244.3"/><use href="#d" x="570.5" y="214.7"/><use href="#d" x="640.8" y="142.4"/><use href="#d" x="545.2" y="246.5"/><use href="#d" x="527.8" y="258.9"/><use href="#d" x="640.7" y="149.2"/><use href="#d" x="645.3" y="140.9"/><use href="#d" x="514.2" y="270.0"/><use href="#d" x="572.2" y="212.6"/><use href="#d" x="634.5" y="147.7"/><use href="#d" x="635.1" y="150.2"/><use href="#d" x="537.9" y="253.3"/><use href="#d" x="524.0" y="266.4"/><use href="#d" x="638.7" y="147.7"/><use href="#d" x="584.5" y="210.2"/><use href="#d" x="561.9" y="222.7"/><use href="#d" x="567.7" y="219.2"/><use href="#d" x="642.5" y="151.1"/><use href="#d" x="517.4" y="270.3"/><use href="#d" x="537.0" y="247.2"/><use href="#d" x="561.2" y="225.5"/><use href="#d" x="640.5" y="152.4"/><use href="#d" x="638.6" y="157.6"/><use href="#d" x="532.5" y="264.0"/><use href="#d" x="553.2" y="234.8"/><use href="#d" x="573.6" y="215.7"/><use href="#d" x="580.2" y="204.0"/><use href="#d" x="536.4" y="258.1"/><use href="#d" x="561.9" y="232.3"/><use href="#d" x="579.6" y="215.3"/><use href="#d" x="536.4" y="254.7"/><use href="#d" x="638.9" y="154.2"/><use href="#d" x="544.3" y="251.2"/><use href="#d" x="564.3" y="224.7"/><use href="#d" x="558.5" y="240.6"/><use href="#d" x="552.9" y="232.7"/><use href="#d" x="544.3" y="249.2"/><use href="#d" x="560.8" y="236.0"/><use href="#d" x="526.1" y="270.0"/><use href="#d" x="566.1" y="221.3"/><use href="#d" x="543.2" y="253.0"/><use href="#d" x="555.5" y="243.2"/><use href="#d" x="576.3" y="218.7"/><use href="#d" x="555.5" y="233.2"/><use href="#d" x="528.1" y="269.4"/><use href="#d" x="626.7" y="163.4"/><use href="#d" x="567.3" y="223.8"/><use href="#d" x="579.5" y="217.7"/><use href="#d" x="570.6" y="222.4"/><use href="#d" x="524.2" y="264.0"/><use href="#d" x="570.7" y="217.7"/><use href="#d" x="534.5" y="265.2"/><use href="#d" x="557.9" y="236.8"/><use href="#d" x="629.2" y="172.0"/><use href="#d" x="648.1" y="141.4"/><use href="#d" x="583.8" y="215.7"/><use href="#d" x="531.1" y="261.2"/><use href="#d" x="565.4" y="228.2"/><use href="#d" x="630.4" y="167.7"/><use href="#d" x="636.3" y="165.1"/><use href="#d" x="546.0" y="243.8"/><use href="#d" x="640.8" y="156.1"/><use href="#d" x="556.7" y="239.0"/><use href="#d" x="563.3" y="228.0"/><use href="#d" x="547.6" y="254.3"/><use href="#d" x="625.5" y="166.3"/><use href="#d" x="581.4" y="210.6"/><use href="#d" x="635.7" y="157.8"/><use href="#d" x="633.1" y="160.2"/><use href="#d" x="581.7" y="217.6"/><use href="#d" x="538.6" y="258.3"/><use href="#d" x="564.0" y="231.8"/><use href="#d" x="631.7" y="172.9"/><use href="#d" x="565.9" y="230.2"/><use href="#d" x="541.2" y="254.5"/><use href="#d" x="530.3" y="265.7"/><use href="#d" x="580.4" y="213.0"/><use href="#d" x="528.2" y="274.0"/><use href="#d" x="545.4" y="253.5"/><use href="#d" x="551.2" y="253.7"/><use href="#d" x="562.9" y="234.5"/><use href="#d" x="516.0" y="290.0"/><use href="#d" x="540.0" y="263.6"/><use href="#d" x="553.1" y="251.5"/><use href="#d" x="643.3" y="162.3"/><use href="#d" x="585.5" y="218.7"/><use href="#d" x="649.0" y="156.8"/><use href="#d" x="558.5" y="242.9"/><use href="#d" x="594.4" y="214.9"/><use href="#d" x="548.5" y="251.4"/><use href="#d" x="518.5" y="282.5"/><use href="#d" x="550.7" y="249.7"/><use href="#d" x="573.0" y="230.0"/><use href="#d" x="572.2" y="235.4"/><use href="#d" x="539.2" y="268.4"/><use href="#d" x="639.1" y="169.6"/><use href="#d" x="536.4" y="264.0"/><use href="#d" x="582.3" y="227.1"/><use href="#d" x="639.2" y="164.4"/><use href="#d" x="640.5" y="159.7"/><use href="#d" x="574.7" y="228.7"/><use href="#d" x="566.8" y="238.1"/><use href="#d" x="583.0" y="221.7"/><use href="#d" x="536.9" y="271.7"/><use href="#d" x="586.7" y="212.4"/><use href="#d" x="545.4" y="257.3"/><use href="#d" x="581.6" y="230.1"/><use href="#d" x="589.5" y="216.5"/><use href="#d" x="560.0" y="245.1"/><use href="#d" x="631.8" y="170.2"/><use href="#d" x="563.4" y="243.1"/><use href="#d" x="639.8" y="166.5"/><use href="#d" x="590.1" y="212.4"/><use href="#d" x="532.2" y="272.4"/><use href="#d" x="635.6" y="168.9"/><use href="#d" x="534.3" y="271.2"/><use href="#d" x="639.3" y="162.1"/><use href="#d" x="511.0" y="297.5"/><use href="#d" x="555.4" y="245.6"/><use href="#d" x="636.2" y="173.6"/><use href="#d" x="641.8" y="167.8"/><use href="#d" x="547.5" y="263.3"/><use href="#d" x="542.9" y="264.5"/><use href="#d" x="578.2" y="222.7"/><use href="#d" x="644.3" y="157.7"/><use href="#d" x="538.3" y="265.2"/><use href="#d" x="584.9" y="228.7"/><use href="#d" x="589.7" y="218.9"/><use href="#d" x="550.4" y="251.7"/><use href="#d" x="596.4" y="216.3"/><use href="#d" x="570.6" y="237.2"/><use href="#d" x="651.3" y="159.7"/><use href="#d" x="579.7" y="226.9"/><use href="#d" x="534.2" y="274.5"/><use href="#d" x="587.3" y="223.8"/><use href="#d" x="582.2" y="225.0"/><use href="#d" x="645.4" y="169.4"/><use href="#d" x="552.6" y="261.0"/><use href="#d" x="573.3" y="242.4"/><use href="#d" x="576.0" y="240.5"/><use href="#d" x="556.6" y="260.0"/><use href="#d" x="548.6" y="265.7"/><use href="#d" x="580.6" y="236.5"/><use href="#d" x="585.4" y="231.9"/><use href="#d" x="599.3" y="219.3"/><use href="#d" x="589.4" y="224.6"/><use href="#d" x="563.7" y="247.8"/><use href="#d" x="645.6" y="159.6"/><use href="#d" x="547.8" y="259.0"/><use href="#d" x="651.4" y="166.1"/><use href="#d" x="550.1" y="256.2"/><use href="#d" x="646.2" y="165.7"/><use href="#d" x="575.3" y="231.4"/><use href="#d" x="569.6" y="249.2"/><use href="#d" x="543.0" y="268.4"/><use href="#d" x="576.7" y="235.4"/><use href="#d" x="502.0" y="314.0"/><use href="#d" x="594.9" y="220.0"/><use href="#d" x="561.1" y="253.6"/><use href="#d" x="586.6" y="227.8"/><use href="#d" x="592.9" y="219.8"/><use href="#d" x="555.3" y="252.5"/><use href="#d" x="577.9" y="231.5"/><use href="#d" x="554.4" y="255.7"/><use href="#d" x="544.9" y="275.4"/><use href="#d" x="572.7" y="248.1"/><use href="#d" x="547.7" y="274.8"/><use href="#d" x="568.6" y="247.4"/><use href="#d" x="585.5" y="234.2"/><use href="#d" x="564.0" y="251.5"/><use href="#d" x="568.7" y="245.5"/><use href="#d" x="535.2" y="276.3"/><use href="#d" x="549.8" y="270.9"/><use href="#d" x="562.8" y="257.2"/><use href="#d" x="560.6" y="249.3"/><use href="#d" x="556.4" y="256.5"/><use href="#d" x="647.3" y="173.5"/><use href="#d" x="578.8" y="239.9"/><use href="#d" x="641.1" y="179.4"/><use href="#d" x="653.7" y="168.2"/><use href="#d" x="575.4" y="245.0"/><use href="#d" x="590.8" y="222.4"/><use href="#d" x="588.7" y="229.9"/><use href="#d" x="561.8" y="258.9"/><use href="#d" x="573.4" y="237.8"/><use href="#d" x="638.4" y="173.0"/><use href="#d" x="583.2" y="232.2"/><use href="#d" x="503.5" y="309.0"/><use href="#d" x="646.2" y="176.3"/><use href="#d" x="640.1" y="175.6"/><use href="#d" x="551.5" y="266.7"/><use href="#d" x="582.6" y="234.2"/><use href="#d" x="558.3" y="256.3"/><use href="#d" x="550.4" y="274.3"/><use href="#d" x="656.3" y="168.6"/><use href="#d" x="562.7" y="260.7"/><use href="#d" x="581.2" y="239.6"/><use href="#d" x="639.0" y="186.0"/><use href="#d" x="560.4" y="256.5"/><use href="#d" x="592.7" y="224.7"/><use href="#d" x="590.2" y="234.5"/><use href="#d" x="541.8" y="279.8"/><use href="#d" x="649.3" y="171.6"/><use href="#d" x="652.6" y="164.1"/><use href="#d" x="546.1" y="272.3"/><use href="#d" x="577.9" y="241.9"/><use href="#d" x="589.7" y="227.6"/><use href="#d" x="547.8" y="269.0"/><use href="#d" x="559.1" y="264.2"/><use href="#d" x="566.4" y="254.3"/><use href="#d" x="520.0" y="301.0"/><use href="#d" x="564.7" y="256.1"/><use href="#d" x="596.9" y="220.8"/><use href="#d" x="598.8" y="221.3"/><use href="#d" x="577.1" y="243.8"/><use href="#d" x="565.9" y="257.6"/><use href="#d" x="643.6" y="182.1"/><use href="#d" x="545.6" y="280.6"/><use href="#d" x="583.2" y="239.1"/><use href="#d" x="575.5" y="253.5"/><use href="#d" x="559.7" y="270.5"/><use href="#d" x="653.9" y="172.3"/><use href="#d" x="552.0" y="275.9"/><use href="#d" x="557.8" y="271.6"/><use href="#d" x="605.4" y="223.5"/><use href="#d" x="554.3" y="266.6"/><use href="#d" x="644.1" y="178.2"/><use href="#d" x="573.7" y="257.3"/><use href="#d" x="526.0" y="299.0"/><use href="#d" x="556.7" y="262.9"/><use href="#d" x="579.8" y="244.3"/><use href="#d" x="601.7" y="222.9"/><use href="#d" x="572.1" y="258.7"/><use href="#d" x="554.0" y="271.6"/><use href="#d" x="570.1" y="260.9"/><use href="#d" x="556.2" y="267.5"/><use href="#d" x="567.5" y="261.3"/><use href="#d" x="551.9" y="281.0"/><use href="#d" x="648.4" y="180.6"/><use href="#d" x="660.7" y="170.1"/><use href="#d" x="587.5" y="243.4"/><use href="#d" x="585.3" y="236.3"/><use href="#d" x="558.6" y="267.0"/><use href="#d" x="511.0" y="311.0"/><use href="#d" x="567.8" y="255.9"/><use href="#d" x="609.5" y="224.6"/><use href="#d" x="569.3" y="253.7"/><use href="#d" x="577.7" y="250.2"/><use href="#d" x="556.0" y="278.3"/><use href="#d" x="648.7" y="175.7"/><use href="#d" x="650.0" y="183.0"/><use href="#d" x="583.1" y="245.6"/><use href="#d" x="589.3" y="239.7"/><use href="#d" x="546.5" y="278.8"/><use href="#d" x="589.6" y="244.3"/><use href="#d" x="581.5" y="242.2"/><use href="#d" x="565.8" y="263.6"/><use href="#d" x="572.5" y="252.7"/><use href="#d" x="554.6" y="273.5"/><use href="#d" x="647.0" y="187.0"/><use href="#d" x="552.4" y="278.0"/><use href="#d" x="554.1" y="279.5"/><use href="#d" x="596.4" y="239.5"/><use href="#d" x="649.7" y="178.0"/><use href="#d" x="586.6" y="247.0"/><use href="#d" x="565.3" y="268.9"/><use href="#d" x="584.9" y="251.7"/><use href="#d" x="589.5" y="247.6"/><use href="#d" x="650.0" y="187.8"/><use href="#d" x="653.0" y="174.9"/><use href="#d" x="609.8" y="226.6"/><use href="#d" x="563.7" y="270.3"/><use href="#d" x="555.7" y="282.0"/><use href="#d" x="597.9" y="241.3"/><use href="#d" x="581.6" y="247.8"/><use href="#d" x="561.7" y="268.7"/><use href="#d" x="553.4" y="284.3"/><use href="#d" x="533.5" y="300.0"/><use href="#d" x="584.3" y="253.8"/><use href="#d" x="572.9" y="266.5"/><use href="#d" x="566.6" y="271.0"/><use href="#d" x="652.0" y="178.4"/><use href="#d" x="565.9" y="276.9"/><use href="#d" x="550.8" y="283.6"/><use href="#d" x="659.3" y="172.6"/><use href="#d" x="583.3" y="250.5"/><use href="#d" x="569.3" y="262.9"/><use href="#d" x="562.7" y="272.9"/><use href="#d" x="580.4" y="262.6"/><use href="#d" x="594.2" y="242.1"/><use href="#d" x="559.1" y="277.8"/><use href="#d" x="592.0" y="246.9"/><use href="#d" x="566.2" y="273.4"/><use href="#d" x="580.3" y="265.1"/><use href="#d" x="577.2" y="265.8"/><use href="#d" x="556.4" y="285.2"/><use href="#d" x="562.9" y="277.2"/><use href="#d" x="574.4" y="260.0"/><use href="#d" x="582.2" y="264.5"/><use href="#d" x="580.8" y="255.8"/><use href="#d" x="576.3" y="258.5"/><use href="#d" x="590.4" y="252.6"/><use href="#d" x="602.8" y="237.6"/><use href="#d" x="585.3" y="249.0"/><use href="#d" x="551.1" y="286.6"/><use href="#d" x="557.2" y="280.1"/><use href="#d" x="598.6" y="247.0"/><use href="#d" x="602.7" y="245.9"/><use href="#d" x="592.1" y="248.9"/><use href="#d" x="612.4" y="230.0"/><use href="#d" x="614.3" y="223.7"/><use href="#d" x="599.1" y="239.6"/><use href="#d" x="595.5" y="247.1"/><use href="#d" x="610.0" y="231.0"/><use href="#d" x="578.5" y="263.3"/><use href="#d" x="594.9" y="244.1"/><use href="#d" x="587.0" y="252.4"/><use href="#d" x="585.4" y="262.6"/><use href="#d" x="615.9" y="225.8"/><use href="#d" x="567.7" y="275.6"/><use href="#d" x="580.7" y="260.0"/><use href="#d" x="614.1" y="237.1"/><use href="#d" x="606.4" y="237.3"/><use href="#d" x="559.2" y="292.7"/><use href="#d" x="575.4" y="267.1"/><use href="#d" x="582.8" y="257.5"/><use href="#d" x="590.9" y="261.2"/><use href="#d" x="553.4" y="289.1"/><use href="#d" x="617.7" y="227.5"/><use href="#d" x="611.3" y="238.5"/><use href="#d" x="610.5" y="233.9"/><use href="#d" x="576.9" y="269.8"/><use href="#d" x="614.2" y="228.6"/><use href="#d" x="595.4" y="255.7"/><use href="#d" x="620.0" y="227.2"/><use href="#d" x="555.6" y="289.2"/><use href="#d" x="586.8" y="266.8"/><use href="#d" x="563.5" y="283.2"/><use href="#d" x="589.2" y="256.0"/><use href="#d" x="596.3" y="249.4"/><use href="#d" x="600.9" y="244.4"/><use href="#d" x="602.7" y="252.5"/><use href="#d" x="537.0" y="307.5"/><use href="#d" x="592.6" y="259.4"/><use href="#d" x="574.9" y="280.7"/><use href="#d" x="571.8" y="271.5"/><use href="#d" x="564.7" y="286.4"/><use href="#d" x="623.1" y="227.4"/><use href="#d" x="591.6" y="255.0"/><use href="#d" x="603.7" y="241.1"/><use href="#d" x="608.1" y="238.5"/><use href="#d" x="561.3" y="293.4"/><use href="#d" x="618.6" y="236.8"/><use href="#d" x="598.2" y="250.9"/><use href="#d" x="612.1" y="235.4"/><use href="#d" x="594.8" y="260.5"/><use href="#d" x="556.1" y="294.9"/><use href="#d" x="538.5" y="315.0"/><use href="#d" x="588.0" y="263.5"/><use href="#d" x="596.5" y="253.4"/><use href="#d" x="559.8" y="285.3"/><use href="#d" x="570.7" y="276.9"/><use href="#d" x="599.6" y="249.3"/><use href="#d" x="590.9" y="257.8"/><use href="#d" x="652.7" y="198.9"/><use href="#d" x="615.1" y="234.4"/><use href="#d" x="626.1" y="230.7"/><use href="#d" x="600.5" y="253.2"/><use href="#d" x="578.3" y="271.6"/><use href="#d" x="569.6" y="279.6"/><use href="#d" x="573.7" y="278.4"/><use href="#d" x="587.6" y="261.4"/><use href="#d" x="568.0" y="280.7"/><use href="#d" x="654.6" y="197.0"/><use href="#d" x="557.1" y="297.7"/><use href="#d" x="591.3" y="266.1"/><use href="#d" x="581.6" y="274.1"/><use href="#d" x="567.7" y="283.7"/><use href="#d" x="598.1" y="261.7"/><use href="#d" x="652.1" y="204.7"/><use href="#d" x="567.6" y="287.3"/><use href="#d" x="655.9" y="202.6"/><use href="#d" x="594.4" y="253.8"/><use href="#d" x="584.2" y="269.7"/><use href="#d" x="590.1" y="267.6"/><use href="#d" x="574.9" y="286.9"/><use href="#d" x="556.8" y="303.2"/><use href="#d" x="573.4" y="288.6"/><use href="#d" x="598.6" y="256.0"/><use href="#d" x="578.3" y="276.0"/><use href="#d" x="596.3" y="267.0"/><use href="#d" x="562.2" y="297.8"/><use href="#d" x="572.8" y="282.2"/><use href="#d" x="583.9" y="275.5"/><use href="#d" x="562.1" y="291.3"/><use href="#d" x="588.8" y="273.8"/><use href="#d" x="616.4" y="237.4"/><use href="#d" x="595.4" y="269.2"/><use href="#d" x="621.4" y="234.3"/><use href="#d" x="603.8" y="249.0"/><use href="#d" x="573.1" y="286.0"/><use href="#d" x="586.0" y="268.6"/><use href="#d" x="568.8" y="289.4"/><use href="#d" x="542.0" y="320.0"/><use href="#d" x="582.5" y="284.2"/><use href="#d" x="559.8" y="294.9"/><use href="#d" x="654.2" y="206.7"/><use href="#d" x="600.8" y="255.7"/><use href="#d" x="661.2" y="199.5"/><use href="#d" x="597.9" y="270.0"/><use href="#d" x="591.1" y="274.4"/><use href="#d" x="568.3" y="297.1"/><use href="#d" x="628.8" y="234.6"/><use href="#d" x="589.9" y="270.0"/><use href="#d" x="592.6" y="275.6"/><use href="#d" x="579.7" y="284.4"/><use href="#d" x="605.8" y="262.2"/><use href="#d" x="568.0" y="299.8"/><use href="#d" x="564.1" y="298.6"/><use href="#d" x="626.3" y="243.7"/><use href="#d" x="586.9" y="271.0"/><use href="#d" x="626.8" y="237.1"/><use href="#d" x="624.6" y="238.3"/><use href="#d" x="577.6" y="283.3"/><use href="#d" x="659.1" y="198.6"/><use href="#d" x="583.7" y="279.5"/><use href="#d" x="582.2" y="277.6"/><use href="#d" x="651.1" y="209.1"/><use href="#d" x="656.5" y="206.9"/><use href="#d" x="595.4" y="274.6"/><use href="#d" x="592.5" y="268.8"/><use href="#d" x="565.7" y="297.0"/><use href="#d" x="589.7" y="279.4"/><use href="#d" x="580.5" y="290.3"/><use href="#d" x="578.5" y="286.8"/><use href="#d" x="655.6" y="212.4"/><use href="#d" x="599.4" y="263.8"/><use href="#d" x="653.6" y="210.2"/><use href="#d" x="579.6" y="293.7"/><use href="#d" x="563.4" y="303.6"/><use href="#d" x="586.3" y="277.4"/><use href="#d" x="578.1" y="289.8"/><use href="#d" x="587.7" y="284.2"/><use href="#d" x="630.8" y="236.2"/><use href="#d" x="659.9" y="205.4"/><use href="#d" x="592.2" y="270.9"/><use href="#d" x="631.1" y="232.4"/><use href="#d" x="540.0" y="326.0"/><use href="#d" x="631.9" y="240.9"/><use href="#d" x="570.0" y="300.3"/><use href="#d" x="668.5" y="207.8"/><use href="#d" x="635.1" y="236.1"/><use href="#d" x="583.7" y="282.3"/><use href="#d" x="586.1" y="282.9"/><use href="#d" x="584.7" y="285.9"/><use href="#d" x="573.9" y="297.5"/><use href="#d" x="602.9" y="272.8"/><use href="#d" x="664.1" y="204.8"/><use href="#d" x="604.7" y="264.1"/><use href="#d" x="565.3" y="304.1"/><use href="#d" x="586.7" y="280.5"/><use href="#d" x="663.8" y="200.9"/><use href="#d" x="597.6" y="274.2"/><use href="#d" x="666.1" y="199.9"/><use href="#d" x="574.6" y="290.8"/><use href="#d" x="591.4" y="280.6"/><use href="#d" x="607.1" y="260.7"/><use href="#d" x="604.3" y="266.2"/><use href="#d" x="572.9" y="306.0"/><use href="#d" x="604.2" y="271.3"/><use href="#d" x="593.3" y="280.9"/><use href="#d" x="668.8" y="204.5"/><use href="#d" x="588.4" y="292.1"/><use href="#d" x="590.3" y="285.8"/><use href="#d" x="574.3" y="299.6"/><use href="#d" x="574.1" y="293.6"/><use href="#d" x="591.6" y="277.5"/><use href="#d" x="601.2" y="267.6"/><use href="#d" x="582.7" y="290.0"/><use href="#d" x="582.0" y="286.9"/><use href="#d" x="576.6" y="292.6"/><use href="#d" x="571.1" y="311.8"/><use href="#d" x="563.9" y="308.8"/><use href="#d" x="601.3" y="282.2"/><use href="#d" x="580.9" y="292.2"/><use href="#d" x="586.8" y="295.7"/><use href="#d" x="607.5" y="264.9"/><use href="#d" x="606.0" y="276.1"/><use href="#d" x="590.4" y="291.5"/><use href="#d" x="581.7" y="296.3"/><use href="#d" x="636.0" y="245.2"/><use href="#d" x="565.0" y="310.3"/><use href="#d" x="572.7" y="300.8"/><use href="#d" x="635.6" y="239.1"/><use href="#d" x="671.0" y="205.2"/><use href="#d" x="609.1" y="266.6"/><use href="#d" x="589.9" y="288.5"/><use href="#d" x="596.6" y="279.7"/><use href="#d" x="615.6" y="265.6"/><use href="#d" x="574.4" y="310.1"/><use href="#d" x="604.5" y="277.9"/><use href="#d" x="669.7" y="218.4"/><use href="#d" x="579.3" y="302.4"/><use href="#d" x="584.7" y="300.1"/><use href="#d" x="570.4" y="305.0"/><use href="#d" x="659.0" y="227.2"/><use href="#d" x="610.5" y="269.1"/><use href="#d" x="610.8" y="273.7"/><use href="#d" x="635.5" y="247.6"/><use href="#d" x="589.6" y="299.4"/><use href="#d" x="609.1" y="272.8"/><use href="#d" x="577.1" y="305.6"/><use href="#d" x="603.4" y="276.0"/><use href="#d" x="584.7" y="295.6"/><use href="#d" x="600.3" y="276.1"/><use href="#d" x="581.3" y="299.4"/><use href="#d" x="581.0" y="305.3"/><use href="#d" x="664.1" y="224.3"/><use href="#d" x="595.9" y="282.1"/><use href="#d" x="610.3" y="277.6"/><use href="#d" x="569.5" y="310.1"/><use href="#d" x="601.0" y="280.3"/><use href="#d" x="574.0" y="313.1"/><use href="#d" x="608.5" y="274.7"/><use href="#d" x="571.4" y="307.4"/><use href="#d" x="671.6" y="219.6"/><use href="#d" x="666.1" y="224.6"/><use href="#d" x="593.3" y="293.2"/><use href="#d" x="603.0" y="279.5"/><use href="#d" x="605.3" y="284.3"/><use href="#d" x="591.3" y="294.3"/><use href="#d" x="583.4" y="306.0"/><use href="#d" x="577.7" y="310.1"/><use href="#d" x="581.9" y="302.4"/><use href="#d" x="579.8" y="311.8"/><use href="#d" x="652.5" y="234.3"/><use href="#d" x="605.7" y="281.0"/><use href="#d" x="581.9" y="309.9"/><use href="#d" x="607.8" y="277.3"/><use href="#d" x="597.4" y="286.5"/><use href="#d" x="596.6" y="297.4"/><use href="#d" x="638.7" y="244.3"/><use href="#d" x="657.4" y="232.3"/><use href="#d" x="592.0" y="299.0"/><use href="#d" x="586.0" y="304.0"/><use href="#d" x="656.7" y="228.6"/><use href="#d" x="576.8" y="319.8"/><use href="#d" x="639.3" y="254.0"/><use href="#d" x="603.2" y="291.9"/><use href="#d" x="587.9" y="303.2"/><use href="#d" x="602.6" y="286.7"/><use href="#d" x="605.2" y="288.1"/><use href="#d" x="668.6" y="220.7"/><use href="#d" x="600.3" y="284.9"/><use href="#d" x="655.0" y="237.0"/><use href="#d" x="659.8" y="231.9"/><use href="#d" x="577.3" y="316.9"/><use href="#d" x="608.7" y="286.3"/><use href="#d" x="573.5" y="320.8"/><use href="#d" x="598.0" y="291.2"/><use href="#d" x="588.7" y="309.8"/><use href="#d" x="667.0" y="227.5"/><use href="#d" x="577.4" y="322.0"/><use href="#d" x="656.3" y="235.4"/><use href="#d" x="602.5" y="289.0"/><use href="#d" x="650.4" y="248.5"/><use href="#d" x="601.5" y="299.7"/><use href="#d" x="579.7" y="308.9"/><use href="#d" x="603.0" y="297.1"/><use href="#d" x="609.9" y="281.9"/><use href="#d" x="658.4" y="234.6"/><use href="#d" x="646.1" y="247.1"/><use href="#d" x="604.7" y="295.9"/><use href="#d" x="594.4" y="298.7"/><use href="#d" x="659.4" y="238.8"/><use href="#d" x="681.2" y="209.7"/><use href="#d" x="669.4" y="224.8"/><use href="#d" x="597.5" y="299.7"/><use href="#d" x="682.8" y="216.0"/><use href="#d" x="641.8" y="254.2"/><use href="#d" x="672.1" y="229.8"/><use href="#d" x="597.3" y="293.8"/><use href="#d" x="644.8" y="250.7"/><use href="#d" x="661.2" y="229.8"/><use href="#d" x="590.2" y="313.3"/><use href="#d" x="600.3" y="303.7"/><use href="#d" x="653.5" y="240.1"/><use href="#d" x="648.4" y="247.2"/><use href="#d" x="647.8" y="250.2"/><use href="#d" x="579.3" y="320.2"/><use href="#d" x="662.7" y="235.7"/><use href="#d" x="595.4" y="303.2"/><use href="#d" x="651.8" y="250.9"/><use href="#d" x="592.9" y="308.9"/><use href="#d" x="662.6" y="241.4"/><use href="#d" x="658.1" y="244.8"/><use href="#d" x="655.5" y="243.8"/><use href="#d" x="606.3" y="291.6"/><use href="#d" x="659.1" y="246.4"/><use href="#d" x="661.6" y="238.8"/><use href="#d" x="571.5" y="323.0"/><use href="#d" x="657.4" y="248.7"/><use href="#d" x="590.9" y="315.3"/><use href="#d" x="590.7" y="310.3"/><use href="#d" x="579.8" y="315.2"/><use href="#d" x="609.6" y="297.0"/><use href="#d" x="588.0" y="307.9"/><use href="#d" x="576.0" y="323.9"/><use href="#d" x="588.1" y="316.4"/><use href="#d" x="646.4" y="253.1"/><use href="#d" x="668.9" y="239.5"/><use href="#d" x="649.3" y="257.2"/><use href="#d" x="656.9" y="251.2"/><use href="#d" x="670.4" y="234.2"/><use href="#d" x="671.8" y="235.9"/><use href="#d" x="596.5" y="312.9"/><use href="#d" x="586.5" y="317.7"/><use href="#d" x="631.2" y="268.8"/><use href="#d" x="650.7" y="245.7"/><use href="#d" x="675.8" y="221.5"/><use href="#d" x="667.4" y="233.2"/><use href="#d" x="648.1" y="258.8"/><use href="#d" x="676.7" y="230.4"/><use href="#d" x="591.2" y="317.6"/><use href="#d" x="581.2" y="316.9"/><use href="#d" x="583.5" y="316.5"/><use href="#d" x="598.8" y="312.3"/><use href="#d" x="673.9" y="225.4"/><use href="#d" x="606.6" y="297.5"/><use href="#d" x="631.5" y="268.5"/><use href="#d" x="667.5" y="244.4"/><use href="#d" x="608.5" y="293.4"/><use href="#d" x="602.0" y="302.5"/><use href="#d" x="598.1" y="310.2"/><use href="#d" x="648.3" y="255.2"/><use href="#d" x="679.3" y="230.4"/><use href="#d" x="674.4" y="229.9"/><use href="#d" x="599.5" y="306.0"/><use href="#d" x="686.0" y="218.3"/><use href="#d" x="669.7" y="244.2"/><use href="#d" x="594.9" y="311.5"/><use href="#d" x="670.5" y="231.1"/><use href="#d" x="672.1" y="240.5"/><use href="#d" x="581.4" y="324.3"/><use href="#d" x="678.0" y="232.9"/><use href="#d" x="652.3" y="260.1"/><use href="#d" x="676.9" y="235.9"/><use href="#d" x="681.5" y="231.5"/><use href="#d" x="664.7" y="245.1"/><use href="#d" x="602.5" y="309.9"/><use href="#d" x="597.5" y="316.3"/><use href="#d" x="681.2" y="223.6"/><use href="#d" x="659.9" y="250.2"/><use href="#d" x="604.8" y="304.0"/><use href="#d" x="657.1" y="255.7"/><use href="#d" x="655.0" y="250.9"/><use href="#d" x="673.5" y="239.0"/><use href="#d" x="594.8" y="321.6"/><use href="#d" x="596.5" y="308.4"/><use href="#d" x="652.4" y="254.7"/><use href="#d" x="665.9" y="242.9"/><use href="#d" x="591.8" y="323.1"/><use href="#d" x="687.6" y="228.5"/><use href="#d" x="656.8" y="259.7"/><use href="#d" x="684.2" y="227.9"/><use href="#d" x="608.4" y="305.2"/><use href="#d" x="584.7" y="321.9"/><use href="#d" x="602.5" y="313.0"/><use href="#d" x="661.8" y="247.2"/><use href="#d" x="604.7" y="309.2"/><use href="#d" x="682.7" y="226.1"/><use href="#d" x="660.8" y="257.6"/><use href="#d" x="589.9" y="325.1"/><use href="#d" x="593.0" y="315.9"/><use href="#d" x="608.2" y="299.4"/><use href="#d" x="664.6" y="256.7"/><use href="#d" x="586.1" y="326.0"/><use href="#d" x="604.2" y="315.9"/><use href="#d" x="670.0" y="249.2"/><use href="#d" x="610.0" y="303.9"/><use href="#d" x="589.2" y="327.1"/><use href="#d" x="594.4" y="326.8"/><use href="#d" x="666.3" y="251.5"/><use href="#d" x="603.7" y="319.0"/><use href="#d" x="684.9" y="231.1"/><use href="#d" x="652.4" y="257.8"/><use href="#d" x="676.2" y="238.6"/><use href="#d" x="595.6" y="317.4"/><use href="#d" x="598.0" y="319.9"/><use href="#d" x="608.2" y="312.9"/><use href="#d" x="607.1" y="311.2"/><use href="#d" x="600.0" y="319.4"/><use href="#d" x="659.9" y="262.0"/><use href="#d" x="679.6" y="237.0"/><use href="#d" x="676.2" y="245.0"/><use href="#d" x="661.4" y="264.2"/><use href="#d" x="600.8" y="311.6"/><use href="#d" x="658.8" y="253.7"/><use href="#d" x="599.1" y="325.8"/><use href="#d" x="671.7" y="246.9"/><use href="#d" x="595.3" y="329.5"/><use href="#d" x="656.4" y="261.8"/><use href="#d" x="591.6" y="326.4"/><use href="#d" x="673.4" y="241.9"/><use href="#d" x="669.2" y="257.7"/><use href="#d" x="683.6" y="235.5"/><use href="#d" x="607.6" y="319.3"/><use href="#d" x="673.1" y="251.2"/><use href="#d" x="602.0" y="320.8"/><use href="#d" x="609.3" y="317.9"/><use href="#d" x="686.7" y="236.1"/><use href="#d" x="681.1" y="234.5"/><use href="#d" x="679.9" y="244.4"/><use href="#d" x="669.9" y="254.4"/><use href="#d" x="607.1" y="308.5"/><use href="#d" x="652.4" y="263.3"/><use href="#d" x="693.9" y="228.6"/><use href="#d" x="692.8" y="231.5"/><use href="#d" x="605.8" y="317.9"/><use href="#d" x="673.9" y="246.9"/><use href="#d" x="592.0" y="328.7"/><use href="#d" x="684.8" y="238.2"/><use href="#d" x="667.1" y="254.3"/><use href="#d" x="682.0" y="239.1"/><use href="#d" x="607.3" y="315.4"/><use href="#d" x="605.2" y="314.1"/><use href="#d" x="675.6" y="250.7"/><use href="#d" x="683.8" y="247.2"/><use href="#d" x="691.8" y="234.1"/><use href="#d" x="627.3" y="295.3"/><use href="#d" x="606.0" y="323.3"/><use href="#d" x="663.4" y="258.3"/><use href="#d" x="689.3" y="235.2"/><use href="#d" x="683.9" y="242.5"/><use href="#d" x="657.9" y="266.0"/><use href="#d" x="690.7" y="237.1"/><use href="#d" x="595.8" y="333.4"/><use href="#d" x="629.0" y="304.0"/><use href="#d" x="601.7" y="322.9"/><use href="#d" x="702.0" y="230.9"/><use href="#d" x="690.6" y="243.0"/><use href="#d" x="693.3" y="238.7"/><use href="#d" x="689.2" y="238.5"/><use href="#d" x="698.2" y="232.4"/><use href="#d" x="599.3" y="329.0"/><use href="#d" x="607.8" y="322.6"/><use href="#d" x="687.2" y="242.9"/><use href="#d" x="689.6" y="247.8"/><use href="#d" x="699.6" y="237.7"/><use href="#d" x="673.2" y="253.2"/><use href="#d" x="698.6" y="228.7"/><use href="#d" x="603.0" y="324.9"/><use href="#d" x="610.1" y="327.0"/><use href="#d" x="609.1" y="329.4"/><use href="#d" x="601.6" y="328.5"/><use href="#d" x="696.0" y="242.1"/><use href="#d" x="700.1" y="231.8"/><use href="#d" x="693.8" y="246.5"/><use href="#d" x="603.7" y="327.7"/><use href="#d" x="606.7" y="325.9"/><use href="#d" x="659.4" y="271.4"/><use href="#d" x="664.7" y="277.5"/><use href="#d" x="656.5" y="279.5"/><use href="#d" x="602.4" y="332.8"/><use href="#d" x="664.0" y="269.2"/><use href="#d" x="662.2" y="274.7"/><use href="#d" x="684.4" y="258.6"/><use href="#d" x="632.0" y="300.0"/><use href="#d" x="689.5" y="245.3"/><use href="#d" x="704.6" y="235.1"/><use href="#d" x="691.7" y="246.0"/><use href="#d" x="694.8" y="249.4"/><use href="#d" x="697.8" y="234.4"/><use href="#d" x="669.6" y="273.4"/><use href="#d" x="673.5" y="272.7"/><use href="#d" x="703.5" y="244.4"/><use href="#d" x="610.0" y="324.6"/><use href="#d" x="607.1" y="329.3"/><use href="#d" x="659.7" y="282.4"/><use href="#d" x="665.9" y="270.5"/><use href="#d" x="661.4" y="279.1"/><use href="#d" x="663.5" y="272.6"/><use href="#d" x="703.3" y="233.3"/><use href="#d" x="605.2" y="330.0"/><use href="#d" x="620.5" y="320.8"/><use href="#d" x="690.5" y="255.8"/><use href="#d" x="689.0" y="249.7"/><use href="#d" x="620.3" y="318.8"/><use href="#d" x="641.4" y="296.0"/><use href="#d" x="607.0" y="343.4"/><use href="#d" x="680.5" y="268.8"/><use href="#d" x="644.5" y="295.3"/><use href="#d" x="686.3" y="257.9"/><use href="#d" x="607.3" y="331.3"/><use href="#d" x="702.8" y="235.8"/><use href="#d" x="698.5" y="246.4"/><use href="#d" x="676.4" y="275.3"/><use href="#d" x="698.4" y="248.7"/><use href="#d" x="606.0" y="333.6"/><use href="#d" x="697.4" y="244.8"/><use href="#d" x="638.3" y="305.5"/><use href="#d" x="597.0" y="345.8"/><use href="#d" x="676.1" y="278.8"/><use href="#d" x="667.0" y="276.7"/><use href="#d" x="700.7" y="245.1"/><use href="#d" x="673.8" y="278.3"/><use href="#d" x="613.4" y="328.6"/><use href="#d" x="692.1" y="257.5"/><use href="#d" x="666.5" y="284.0"/><use href="#d" x="709.4" y="243.2"/><use href="#d" x="699.1" y="250.9"/><use href="#d" x="617.3" y="333.3"/><use href="#d" x="608.8" y="347.3"/><use href="#d" x="708.9" y="245.2"/><use href="#d" x="671.1" y="278.6"/><use href="#d" x="624.2" y="327.3"/><use href="#d" x="674.1" y="276.2"/><use href="#d" x="668.4" y="280.5"/><use href="#d" x="677.7" y="277.0"/><use href="#d" x="693.2" y="253.6"/><use href="#d" x="650.8" y="301.6"/><use href="#d" x="663.5" y="285.1"/><use href="#d" x="682.2" y="277.3"/><use href="#d" x="696.5" y="253.7"/><use href="#d" x="692.0" y="255.5"/><use href="#d" x="705.9" y="243.7"/><use href="#d" x="693.8" y="261.0"/><use href="#d" x="697.0" y="253.0"/><use href="#d" x="623.6" y="327.0"/><use href="#d" x="711.9" y="247.2"/><use href="#d" x="666.8" y="290.6"/><use href="#d" x="688.6" y="264.8"/><use href="#d" x="650.8" y="307.0"/><use href="#d" x="692.5" y="262.7"/><use href="#d" x="688.0" y="265.6"/><use href="#d" x="671.6" y="286.0"/><use href="#d" x="712.3" y="245.0"/><use href="#d" x="672.9" y="282.5"/><use href="#d" x="666.6" y="287.6"/><use href="#d" x="679.9" y="278.9"/><use href="#d" x="677.6" y="282.1"/><use href="#d" x="613.4" y="340.3"/><use href="#d" x="620.5" y="338.8"/><use href="#d" x="709.4" y="247.7"/><use href="#d" x="669.9" y="288.0"/><use href="#d" x="604.8" y="359.0"/><use href="#d" x="719.5" y="244.4"/><use href="#d" x="675.8" y="283.8"/><use href="#d" x="680.9" y="287.5"/><use href="#d" x="629.0" y="339.5"/><use href="#d" x="677.6" y="286.1"/><use href="#d" x="714.3" y="249.5"/><use href="#d" x="627.5" y="337.0"/><use href="#d" x="657.0" y="305.5"/><use href="#d" x="718.2" y="252.9"/><use href="#d" x="678.5" y="288.3"/><use href="#d" x="679.0" y="295.0"/><use href="#d" x="683.6" y="282.9"/><use href="#d" x="652.3" y="312.5"/><use href="#d" x="717.6" y="249.9"/><use href="#d" x="687.5" y="285.2"/><use href="#d" x="723.4" y="249.1"/><use href="#d" x="623.0" y="351.0"/><use href="#d" x="686.7" y="294.5"/><use href="#d" x="673.4" y="304.7"/><use href="#d" x="626.0" y="352.5"/><use href="#d" x="721.0" y="257.0"/><use href="#d" x="630.6" y="356.0"/><use href="#d" x="636.4" y="348.0"/><use href="#d" x="650.8" y="329.7"/><use href="#d" x="636.2" y="352.4"/><use href="#d" x="628.2" y="354.8"/><use href="#d" x="633.3" y="356.5"/><use href="#d" x="653.5" y="334.6"/><use href="#d" x="692.0" y="299.0"/><use href="#d" x="648.7" y="342.0"/><use href="#d" x="620.5" y="365.3"/><use href="#d" x="652.3" y="344.7"/><use href="#d" x="645.3" y="344.2"/><use href="#d" x="660.0" y="331.0"/><use href="#d" x="650.3" y="343.7"/><use href="#d" x="648.3" y="347.4"/><use href="#d" x="655.5" y="333.7"/><use href="#d" x="651.6" y="348.1"/><use href="#d" x="654.5" y="334.0"/><use href="#d" x="679.7" y="308.6"/><use href="#d" x="687.5" y="310.0"/><use href="#d" x="643.1" y="356.3"/><use href="#d" x="641.0" y="349.4"/><use href="#d" x="655.9" y="342.9"/><use href="#d" x="627.5" y="374.0"/><use href="#d" x="661.3" y="336.5"/><use href="#d" x="644.8" y="346.9"/><use href="#d" x="666.2" y="337.3"/><use href="#d" x="632.0" y="368.4"/><use href="#d" x="645.6" y="356.8"/><use href="#d" x="676.6" y="329.0"/><use href="#d" x="658.9" y="334.8"/><use href="#d" x="646.8" y="358.7"/><use href="#d" x="643.2" y="352.6"/><use href="#d" x="663.6" y="335.9"/><use href="#d" x="624.4" y="382.5"/><use href="#d" x="667.4" y="344.1"/><use href="#d" x="663.9" y="343.4"/><use href="#d" x="650.1" y="351.4"/><use href="#d" x="646.8" y="353.8"/><use href="#d" x="698.3" y="310.1"/><use href="#d" x="700.0" y="303.0"/><use href="#d" x="661.4" y="348.1"/><use href="#d" x="649.1" y="355.0"/><use href="#d" x="649.9" y="358.0"/><use href="#d" x="653.1" y="351.9"/><use href="#d" x="651.4" y="356.1"/><use href="#d" x="668.1" y="348.2"/><use href="#d" x="676.7" y="328.6"/><use href="#d" x="700.1" y="315.3"/><use href="#d" x="652.2" y="362.6"/><use href="#d" x="664.6" y="353.5"/><use href="#d" x="663.3" y="355.6"/><use href="#d" x="668.9" y="341.1"/><use href="#d" x="700.0" y="312.3"/><use href="#d" x="683.0" y="331.7"/><use href="#d" x="672.8" y="345.8"/><use href="#d" x="648.1" y="363.7"/><use href="#d" x="652.2" y="366.0"/><use href="#d" x="667.0" y="353.4"/><use href="#d" x="671.1" y="350.9"/><use href="#d" x="690.0" y="331.0"/><use href="#d" x="682.8" y="332.0"/><use href="#d" x="662.3" y="352.5"/><use href="#d" x="701.4" y="321.2"/><use href="#d" x="647.5" y="366.4"/><use href="#d" x="655.7" y="370.5"/><use href="#d" x="660.8" y="357.1"/><use href="#d" x="660.1" y="366.1"/><use href="#d" x="707.6" y="316.9"/><use href="#d" x="655.6" y="362.3"/><use href="#d" x="690.0" y="330.5"/><use href="#d" x="697.8" y="324.0"/><use href="#d" x="700.6" y="324.9"/><use href="#d" x="690.8" y="331.7"/><use href="#d" x="708.6" y="323.8"/><use href="#d" x="661.7" y="362.0"/><use href="#d" x="658.8" y="368.4"/><use href="#d" x="702.5" y="325.5"/><use href="#d" x="705.3" y="319.5"/><use href="#d" x="679.2" y="350.4"/><use href="#d" x="707.0" y="324.0"/><use href="#d" x="687.8" y="350.0"/><use href="#d" x="678.5" y="355.0"/><use href="#d" x="687.2" y="353.7"/><use href="#d" x="712.0" y="321.5"/><use href="#d" x="685.1" y="351.6"/><use href="#d" x="702.5" y="342.0"/><use href="#d" x="684.2" y="354.0"/><use href="#d" x="690.0" y="356.2"/><use href="#d" x="669.7" y="374.7"/><use href="#d" x="715.0" y="332.5"/><use href="#d" x="718.0" y="336.5"/><use href="#d" x="700.0" y="345.8"/><use href="#d" x="715.0" y="341.0"/><use href="#d" x="714.8" y="332.8"/><use href="#d" x="672.8" y="378.6"/><use href="#d" x="718.0" y="335.6"/><use href="#d" x="699.4" y="363.8"/><use href="#d" x="684.5" y="380.0"/><use href="#d" x="694.7" y="367.7"/><use href="#d" x="726.0" y="341.0"/><use href="#d" x="676.7" y="386.4"/><use href="#d" x="704.0" y="366.9"/><use href="#d" x="722.8" y="343.4"/><use href="#d" x="699.4" y="370.0"/><use href="#d" x="730.6" y="345.0"/><use href="#d" x="696.2" y="368.4"/><use href="#d" x="708.0" y="373.0"/><use href="#d" x="689.2" y="387.0"/><use href="#d" x="690.8" y="387.0"/><use href="#d" x="735.8" y="355.7"/><use href="#d" x="695.5" y="398.0"/><use href="#d" x="713.4" y="374.7"/><use href="#d" x="719.0" y="375.5"/><use href="#d" x="722.8" y="368.4"/><use href="#d" x="740.8" y="359.3"/><use href="#d" x="737.3" y="353.7"/><use href="#d" x="746.0" y="354.4"/><use href="#d" x="749.5" y="351.9"/><use href="#d" x="738.5" y="366.9"/><use href="#d" x="738.0" y="359.8"/><use href="#d" x="732.2" y="375.5"/><use href="#d" x="713.4" y="384.0"/><use href="#d" x="701.0" y="406.7"/><use href="#d" x="742.4" y="356.6"/><use href="#d" x="738.2" y="369.2"/><use href="#d" x="743.6" y="362.8"/><use href="#d" x="740.7" y="370.8"/><use href="#d" x="731.4" y="380.0"/><use href="#d" x="759.9" y="353.8"/><use href="#d" x="749.8" y="364.0"/><use href="#d" x="756.3" y="354.4"/><use href="#d" x="726.7" y="376.2"/><use href="#d" x="701.5" y="408.3"/><use href="#d" x="736.9" y="379.4"/><use href="#d" x="733.8" y="385.6"/><use href="#d" x="755.9" y="357.9"/><use href="#d" x="742.8" y="374.1"/><use href="#d" x="745.4" y="374.8"/><use href="#d" x="746.6" y="367.3"/><use href="#d" x="749.4" y="368.3"/><use href="#d" x="749.9" y="366.3"/><use href="#d" x="746.2" y="364.1"/><use href="#d" x="751.8" y="369.1"/><use href="#d" x="755.4" y="360.7"/><use href="#d" x="744.0" y="369.3"/><use href="#d" x="744.2" y="371.4"/><use href="#d" x="736.9" y="389.5"/><use href="#d" x="750.7" y="371.3"/><use href="#d" x="761.3" y="358.1"/><use href="#d" x="764.5" y="361.6"/><use href="#d" x="753.9" y="363.4"/><use href="#d" x="763.9" y="357.4"/><use href="#d" x="753.1" y="366.1"/><use href="#d" x="712.5" y="409.8"/><use href="#d" x="712.0" y="409.0"/><use href="#d" x="766.3" y="363.6"/><use href="#d" x="757.5" y="366.5"/><use href="#d" x="759.7" y="367.3"/><use href="#d" x="755.1" y="375.8"/><use href="#d" x="711.7" y="417.7"/><use href="#d" x="756.5" y="364.8"/><use href="#d" x="752.8" y="379.7"/><use href="#d" x="757.9" y="370.6"/><use href="#d" x="762.6" y="367.4"/><use href="#d" x="761.3" y="364.2"/><use href="#d" x="754.2" y="371.6"/><use href="#d" x="765.4" y="370.4"/><use href="#d" x="754.8" y="369.6"/><use href="#d" x="715.6" y="414.5"/><use href="#d" x="719.5" y="418.4"/><use href="#d" x="771.4" y="365.6"/><use href="#d" x="751.8" y="376.8"/><use href="#d" x="711.0" y="427.0"/><use href="#d" x="764.2" y="377.4"/><use href="#d" x="766.8" y="372.6"/><use href="#d" x="760.3" y="379.4"/><use href="#d" x="767.2" y="375.8"/><use href="#d" x="776.1" y="366.9"/><use href="#d" x="770.5" y="369.3"/><use href="#d" x="763.4" y="370.6"/><use href="#d" x="717.2" y="422.3"/><use href="#d" x="715.6" y="424.7"/><use href="#d" x="770.4" y="372.3"/><use href="#d" x="774.0" y="369.8"/><use href="#d" x="768.7" y="377.4"/><use href="#d" x="773.4" y="372.4"/><use href="#d" x="769.2" y="374.2"/><use href="#d" x="724.2" y="427.8"/><use href="#d" x="771.5" y="375.3"/><use href="#d" x="784.4" y="368.5"/><use href="#d" x="765.7" y="380.6"/><use href="#d" x="776.5" y="375.4"/><use href="#d" x="722.7" y="424.0"/><use href="#d" x="780.3" y="375.8"/><use href="#d" x="778.4" y="376.8"/><use href="#d" x="718.0" y="434.0"/><use href="#d" x="776.0" y="377.6"/><use href="#d" x="728.0" y="423.0"/><use href="#d" x="755.6" y="404.4"/><use href="#d" x="780.8" y="370.9"/><use href="#d" x="720.3" y="436.4"/><use href="#d" x="779.8" y="373.3"/><use href="#d" x="726.6" y="433.3"/><use href="#d" x="738.3" y="424.0"/><use href="#d" x="756.2" y="404.4"/><use href="#d" x="737.5" y="427.8"/><use href="#d" x="734.4" y="424.0"/><use href="#d" x="742.2" y="424.7"/><use href="#d" x="737.5" y="437.2"/><use href="#d" x="744.5" y="433.3"/><use href="#d" x="765.0" y="405.0"/><use href="#d" x="747.7" y="431.7"/><use href="#d" x="765.6" y="406.0"/><use href="#d" x="745.3" y="428.6"/><use href="#d" x="776.6" y="406.7"/><use href="#d" x="776.0" y="407.5"/><use href="#d" x="777.3" y="414.5"/><use href="#d" x="786.0" y="408.3"/><use href="#d" x="757.8" y="433.3"/><use href="#d" x="749.2" y="441.0"/><use href="#d" x="786.0" y="409.0"/><use href="#d" x="770.3" y="430.0"/><use href="#d" x="770.3" y="423.0"/><use href="#d" x="787.5" y="423.0"/><use href="#d" x="788.3" y="419.2"/><use href="#d" x="785.0" y="420.8"/><use href="#d" x="784.4" y="416.0"/><use href="#d" x="770.3" y="442.7"/><use href="#d" x="788.3" y="414.5"/><use href="#d" x="769.5" y="436.4"/><use href="#d" x="764.8" y="450.5"/><use href="#d" x="775.0" y="434.8"/><use href="#d" x="779.0" y="437.2"/><use href="#d" x="786.7" y="438.0"/><use href="#d" x="775.8" y="447.3"/><use href="#d" x="780.5" y="432.5"/><use href="#d" x="783.6" y="436.4"/><use href="#d" x="778.0" y="441.9"/><use href="#d" x="775.0" y="441.0"/><use href="#d" x="767.2" y="455.0"/><use href="#d" x="782.8" y="441.9"/><use href="#d" x="799.2" y="423.0"/><use href="#d" x="785.0" y="445.0"/><use href="#d" x="772.7" y="455.0"/><use href="#d" x="791.4" y="442.7"/><use href="#d" x="791.4" y="447.3"/><use href="#d" x="779.0" y="457.5"/><use href="#d" x="768.8" y="459.8"/><use href="#d" x="780.5" y="453.6"/><use href="#d" x="789.8" y="449.7"/><use href="#d" x="774.2" y="459.0"/><use href="#d" x="784.4" y="457.5"/><use href="#d" x="790.6" y="463.0"/><use href="#d" x="795.3" y="454.4"/><use href="#d" x="786.7" y="461.4"/><use href="#d" x="801.5" y="454.4"/><use href="#d" x="794.5" y="463.0"/><use href="#d" x="800.0" y="457.5"/><use href="#d" x="813.3" y="452.8"/><use href="#d" x="818.8" y="456.7"/><use href="#d" x="811.7" y="456.7"/><use href="#d" x="823.4" y="452.8"/><use href="#d" x="831.0" y="461.0"/><use href="#d" x="833.6" y="459.8"/><use href="#d" x="825.0" y="462.0"/><use href="#d" x="836.0" y="460.5"/><use href="#d" x="829.0" y="463.0"/><use href="#d" x="838.0" y="461.5"/><use href="#d" x="843.5" y="465.5"/><use href="#d" x="841.4" y="463.8"/><use href="#d" x="840.5" y="463.5"/><use href="#d" x="845.5" y="467.5"/><use href="#d" x="852.3" y="471.6"/><use href="#d" x="848.5" y="469.5"/><use href="#d" x="850.5" y="471.2"/><use href="#d" x="854.0" y="473.0"/><use href="#d" x="846.9" y="468.4"/><use href="#d" x="857.0" y="474.7"/><use href="#d" x="855.5" y="474.5"/></g>
<g filter="url(#sh)">
<path d="M319.2 58.7L886.8 505.5" stroke="#000" stroke-width="1.5" fill="none"/>
</g>
<text x="597" y="56" font-size="18.5" font-style="italic" fill="#3b5b8f" textLength="228" lengthAdjust="spacingAndGlyphs">Hussman Strategic Advisors</text>
<text x="597" y="71.5" font-size="12" font-style="italic" fill="#222" stroke="#222" stroke-width="0.18" textLength="344" lengthAdjust="spacingAndGlyphs">Data: Federal Reserve, Robert Shiller, Standard &amp; Poors, 1928-2025</text>
<text x="597" y="86.5" font-size="12" font-style="italic" fill="#222" stroke="#222" stroke-width="0.18" textLength="357" lengthAdjust="spacingAndGlyphs">Figures prior to 1947 imputed based on Hussman Margin-Adjusted P/E</text>
<rect x="327.3" y="49.3" width="28.7" height="18.2" fill="#c6d9f1" fill-opacity="0.93"/>
<text x="341.1" y="62.6" font-size="11" font-weight="bold" fill="#111" text-anchor="middle" textLength="21" lengthAdjust="spacingAndGlyphs">0.51</text>
<rect x="374.6" y="86.6" width="28.7" height="18.2" fill="#c6d9f1" fill-opacity="0.93"/>
<text x="388.4" y="99.9" font-size="11" font-weight="bold" fill="#111" text-anchor="middle" textLength="21" lengthAdjust="spacingAndGlyphs">0.60</text>
<rect x="421.8" y="123.8" width="28.7" height="18.2" fill="#c6d9f1" fill-opacity="0.93"/>
<text x="435.6" y="137.1" font-size="11" font-weight="bold" fill="#111" text-anchor="middle" textLength="21" lengthAdjust="spacingAndGlyphs">0.70</text>
<rect x="469.1" y="161.0" width="28.7" height="18.2" fill="#c6d9f1" fill-opacity="0.93"/>
<text x="482.9" y="174.3" font-size="11" font-weight="bold" fill="#111" text-anchor="middle" textLength="21" lengthAdjust="spacingAndGlyphs">0.83</text>
<rect x="516.4" y="198.3" width="28.7" height="18.2" fill="#c6d9f1" fill-opacity="0.93"/>
<text x="530.2" y="211.6" font-size="11" font-weight="bold" fill="#111" text-anchor="middle" textLength="21" lengthAdjust="spacingAndGlyphs">0.97</text>
<rect x="563.7" y="235.5" width="28.7" height="18.2" fill="#c6d9f1" fill-opacity="0.93"/>
<text x="577.5" y="248.8" font-size="11" font-weight="bold" fill="#111" text-anchor="middle" textLength="21" lengthAdjust="spacingAndGlyphs">1.14</text>
<rect x="610.9" y="272.7" width="28.7" height="18.2" fill="#c6d9f1" fill-opacity="0.93"/>
<text x="624.7" y="286.0" font-size="11" font-weight="bold" fill="#111" text-anchor="middle" textLength="21" lengthAdjust="spacingAndGlyphs">1.33</text>
<rect x="658.2" y="309.9" width="28.7" height="18.2" fill="#c6d9f1" fill-opacity="0.93"/>
<text x="672.0" y="323.2" font-size="11" font-weight="bold" fill="#111" text-anchor="middle" textLength="21" lengthAdjust="spacingAndGlyphs">1.56</text>
<rect x="705.5" y="347.2" width="28.7" height="18.2" fill="#c6d9f1" fill-opacity="0.93"/>
<text x="719.3" y="360.5" font-size="11" font-weight="bold" fill="#111" text-anchor="middle" textLength="21" lengthAdjust="spacingAndGlyphs">1.83</text>
<rect x="752.8" y="384.4" width="28.7" height="18.2" fill="#c6d9f1" fill-opacity="0.93"/>
<text x="766.6" y="397.7" font-size="11" font-weight="bold" fill="#111" text-anchor="middle" textLength="21" lengthAdjust="spacingAndGlyphs">2.15</text>
<rect x="800.0" y="421.6" width="28.7" height="18.2" fill="#c6d9f1" fill-opacity="0.93"/>
<text x="813.8" y="434.9" font-size="11" font-weight="bold" fill="#111" text-anchor="middle" textLength="21" lengthAdjust="spacingAndGlyphs">2.52</text>
<rect x="805.0" y="471.0" width="28.7" height="18.2" fill="#c6d9f1" fill-opacity="0.93"/>
<text x="818.8" y="484.3" font-size="11" font-weight="bold" fill="#111" text-anchor="middle" textLength="21" lengthAdjust="spacingAndGlyphs">2.95</text>
<rect x="853.0" y="506.0" width="28.7" height="18.2" fill="#c6d9f1" fill-opacity="0.93"/>
<text x="866.8" y="519.3" font-size="11" font-weight="bold" fill="#111" text-anchor="middle" textLength="21" lengthAdjust="spacingAndGlyphs">3.46</text>
<g filter="url(#sh)">
<circle cx="319.5" cy="58.7" r="4.3" fill="url(#og)"/>
<circle cx="366.8" cy="96.0" r="4.3" fill="url(#og)"/>
<circle cx="414.0" cy="133.2" r="4.3" fill="url(#og)"/>
<circle cx="461.3" cy="170.4" r="4.3" fill="url(#og)"/>
<circle cx="508.6" cy="207.7" r="4.3" fill="url(#og)"/>
<circle cx="555.9" cy="244.9" r="4.3" fill="url(#og)"/>
<circle cx="603.1" cy="282.1" r="4.3" fill="url(#og)"/>
<circle cx="650.4" cy="319.3" r="4.3" fill="url(#og)"/>
<circle cx="697.7" cy="356.6" r="4.3" fill="url(#og)"/>
<circle cx="745.0" cy="393.8" r="4.3" fill="url(#og)"/>
<circle cx="792.2" cy="431.0" r="4.3" fill="url(#og)"/>
<circle cx="839.5" cy="468.3" r="4.3" fill="url(#og)"/>
<circle cx="886.8" cy="505.5" r="4.3" fill="url(#og)"/>
</g>
<g filter="url(#sh)"><path d="M891 468.5V497M886.6 490.5L891 498L895.4 490.5" stroke="#2f6473" stroke-width="1.6" fill="none"/></g>
<text x="890.5" y="457.5" font-size="13.5" font-style="italic" fill="#454545" text-anchor="middle" textLength="56" lengthAdjust="spacingAndGlyphs">06/10/25</text>
<rect x="0.55" y="0.55" width="1022.9" height="578.9" fill="none" stroke="#8a8a8a" stroke-width="1.1"/>
</svg></body></html>
